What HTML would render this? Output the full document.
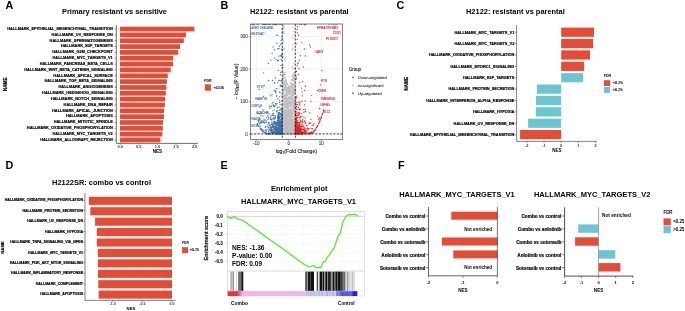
<!DOCTYPE html>
<html><head><meta charset="utf-8"><style>
html,body{margin:0;padding:0;background:#fff;}
svg{display:block;font-family:"Liberation Sans",sans-serif;will-change:transform;}
</style></head><body>
<svg width="685" height="311" viewBox="0 0 685 311">
<rect width="685" height="311" fill="#fff"/>
<text x="5.40" y="8.70" font-size="10.8" font-weight="bold" fill="#000">A</text>
<text x="220.60" y="8.70" font-size="10.8" font-weight="bold" fill="#000">B</text>
<text x="396.60" y="8.90" font-size="10.8" font-weight="bold" fill="#000">C</text>
<text x="5.40" y="168.50" font-size="10.8" font-weight="bold" fill="#000">D</text>
<text x="220.50" y="168.90" font-size="10.8" font-weight="bold" fill="#000">E</text>
<text x="397.90" y="169.00" font-size="10.8" font-weight="bold" fill="#000">F</text>
<text x="62.00" y="13.80" font-size="7.44" font-weight="bold" fill="#000" textLength="105" lengthAdjust="spacingAndGlyphs">Primary resistant vs sensitive</text>
<rect x="120.00" y="26.70" width="74.40" height="4.70" fill="#e64b35"/>
<text x="112.80" y="29.89" font-size="3.9" font-weight="bold" text-anchor="end" fill="#000" stroke="#000" stroke-width="0.17">HALLMARK_EPITHELIAL_MESENCHYMAL_TRANSITION</text>
<line x1="114.60" y1="29.05" x2="116.30" y2="29.05" stroke="#333" stroke-width="0.5"/>
<rect x="120.00" y="32.54" width="66.00" height="4.70" fill="#e64b35"/>
<text x="112.80" y="35.73" font-size="3.9" font-weight="bold" text-anchor="end" fill="#000" stroke="#000" stroke-width="0.17">HALLMARK_UV_RESPONSE_DN</text>
<line x1="114.60" y1="34.89" x2="116.30" y2="34.89" stroke="#333" stroke-width="0.5"/>
<rect x="120.00" y="38.38" width="63.80" height="4.70" fill="#e64b35"/>
<text x="112.80" y="41.57" font-size="3.9" font-weight="bold" text-anchor="end" fill="#000" stroke="#000" stroke-width="0.17">HALLMARK_SPERMATOGENESIS</text>
<line x1="114.60" y1="40.73" x2="116.30" y2="40.73" stroke="#333" stroke-width="0.5"/>
<rect x="120.00" y="44.22" width="60.00" height="4.70" fill="#e64b35"/>
<text x="112.80" y="47.41" font-size="3.9" font-weight="bold" text-anchor="end" fill="#000" stroke="#000" stroke-width="0.17">HALLMARK_E2F_TARGETS</text>
<line x1="114.60" y1="46.57" x2="116.30" y2="46.57" stroke="#333" stroke-width="0.5"/>
<rect x="120.00" y="50.06" width="58.20" height="4.70" fill="#e64b35"/>
<text x="112.80" y="53.25" font-size="3.9" font-weight="bold" text-anchor="end" fill="#000" stroke="#000" stroke-width="0.17">HALLMARK_G2M_CHECKPOINT</text>
<line x1="114.60" y1="52.41" x2="116.30" y2="52.41" stroke="#333" stroke-width="0.5"/>
<rect x="120.00" y="55.90" width="53.20" height="4.70" fill="#e64b35"/>
<text x="112.80" y="59.09" font-size="3.9" font-weight="bold" text-anchor="end" fill="#000" stroke="#000" stroke-width="0.17">HALLMARK_MYC_TARGETS_V1</text>
<line x1="114.60" y1="58.25" x2="116.30" y2="58.25" stroke="#333" stroke-width="0.5"/>
<rect x="120.00" y="61.74" width="53.00" height="4.70" fill="#e64b35"/>
<text x="112.80" y="64.93" font-size="3.9" font-weight="bold" text-anchor="end" fill="#000" stroke="#000" stroke-width="0.17">HALLMARK_PANCREAS_BETA_CELLS</text>
<line x1="114.60" y1="64.09" x2="116.30" y2="64.09" stroke="#333" stroke-width="0.5"/>
<rect x="120.00" y="67.58" width="50.70" height="4.70" fill="#e64b35"/>
<text x="112.80" y="70.77" font-size="3.9" font-weight="bold" text-anchor="end" fill="#000" stroke="#000" stroke-width="0.17">HALLMARK_WNT_BETA_CATENIN_SIGNALING</text>
<line x1="114.60" y1="69.93" x2="116.30" y2="69.93" stroke="#333" stroke-width="0.5"/>
<rect x="120.00" y="73.42" width="47.80" height="4.70" fill="#e64b35"/>
<text x="112.80" y="76.61" font-size="3.9" font-weight="bold" text-anchor="end" fill="#000" stroke="#000" stroke-width="0.17">HALLMARK_APICAL_SURFACE</text>
<line x1="114.60" y1="75.77" x2="116.30" y2="75.77" stroke="#333" stroke-width="0.5"/>
<rect x="120.00" y="79.26" width="46.90" height="4.70" fill="#e64b35"/>
<text x="112.80" y="82.45" font-size="3.9" font-weight="bold" text-anchor="end" fill="#000" stroke="#000" stroke-width="0.17">HALLMARK_TGF_BETA_SIGNALING</text>
<line x1="114.60" y1="81.61" x2="116.30" y2="81.61" stroke="#333" stroke-width="0.5"/>
<rect x="120.00" y="85.10" width="46.40" height="4.70" fill="#e64b35"/>
<text x="112.80" y="88.29" font-size="3.9" font-weight="bold" text-anchor="end" fill="#000" stroke="#000" stroke-width="0.17">HALLMARK_ANGIOGENESIS</text>
<line x1="114.60" y1="87.45" x2="116.30" y2="87.45" stroke="#333" stroke-width="0.5"/>
<rect x="120.00" y="90.94" width="45.80" height="4.70" fill="#e64b35"/>
<text x="112.80" y="94.13" font-size="3.9" font-weight="bold" text-anchor="end" fill="#000" stroke="#000" stroke-width="0.17">HALLMARK_HEDGEHOG_SIGNALING</text>
<line x1="114.60" y1="93.29" x2="116.30" y2="93.29" stroke="#333" stroke-width="0.5"/>
<rect x="120.00" y="96.78" width="45.10" height="4.70" fill="#e64b35"/>
<text x="112.80" y="99.97" font-size="3.9" font-weight="bold" text-anchor="end" fill="#000" stroke="#000" stroke-width="0.17">HALLMARK_NOTCH_SIGNALING</text>
<line x1="114.60" y1="99.13" x2="116.30" y2="99.13" stroke="#333" stroke-width="0.5"/>
<rect x="120.00" y="102.62" width="44.90" height="4.70" fill="#e64b35"/>
<text x="112.80" y="105.81" font-size="3.9" font-weight="bold" text-anchor="end" fill="#000" stroke="#000" stroke-width="0.17">HALLMARK_DNA_REPAIR</text>
<line x1="114.60" y1="104.97" x2="116.30" y2="104.97" stroke="#333" stroke-width="0.5"/>
<rect x="120.00" y="108.46" width="44.00" height="4.70" fill="#e64b35"/>
<text x="112.80" y="111.65" font-size="3.9" font-weight="bold" text-anchor="end" fill="#000" stroke="#000" stroke-width="0.17">HALLMARK_APICAL_JUNCTION</text>
<line x1="114.60" y1="110.81" x2="116.30" y2="110.81" stroke="#333" stroke-width="0.5"/>
<rect x="120.00" y="114.30" width="44.00" height="4.70" fill="#e64b35"/>
<text x="112.80" y="117.49" font-size="3.9" font-weight="bold" text-anchor="end" fill="#000" stroke="#000" stroke-width="0.17">HALLMARK_APOPTOSIS</text>
<line x1="114.60" y1="116.65" x2="116.30" y2="116.65" stroke="#333" stroke-width="0.5"/>
<rect x="120.00" y="120.14" width="43.00" height="4.70" fill="#e64b35"/>
<text x="112.80" y="123.33" font-size="3.9" font-weight="bold" text-anchor="end" fill="#000" stroke="#000" stroke-width="0.17">HALLMARK_MITOTIC_SPINDLE</text>
<line x1="114.60" y1="122.49" x2="116.30" y2="122.49" stroke="#333" stroke-width="0.5"/>
<rect x="120.00" y="125.98" width="42.80" height="4.70" fill="#e64b35"/>
<text x="112.80" y="129.17" font-size="3.9" font-weight="bold" text-anchor="end" fill="#000" stroke="#000" stroke-width="0.17">HALLMARK_OXIDATIVE_PHOSPHORYLATION</text>
<line x1="114.60" y1="128.33" x2="116.30" y2="128.33" stroke="#333" stroke-width="0.5"/>
<rect x="120.00" y="131.82" width="42.40" height="4.70" fill="#e64b35"/>
<text x="112.80" y="135.01" font-size="3.9" font-weight="bold" text-anchor="end" fill="#000" stroke="#000" stroke-width="0.17">HALLMARK_MYC_TARGETS_V2</text>
<line x1="114.60" y1="134.17" x2="116.30" y2="134.17" stroke="#333" stroke-width="0.5"/>
<rect x="120.00" y="137.66" width="40.40" height="4.70" fill="#e64b35"/>
<text x="112.80" y="140.85" font-size="3.9" font-weight="bold" text-anchor="end" fill="#000" stroke="#000" stroke-width="0.17">HALLMARK_ALLOGRAFT_REJECTION</text>
<line x1="114.60" y1="140.01" x2="116.30" y2="140.01" stroke="#333" stroke-width="0.5"/>
<line x1="116.30" y1="25.00" x2="116.30" y2="143.40" stroke="#333" stroke-width="0.7"/>
<line x1="116.30" y1="143.40" x2="198.00" y2="143.40" stroke="#333" stroke-width="0.7"/>
<line x1="120.20" y1="143.50" x2="120.20" y2="145.00" stroke="#333" stroke-width="0.5"/>
<text x="120.20" y="148.04" font-size="3.9" font-weight="bold" text-anchor="middle" fill="#333">0.0</text>
<line x1="138.80" y1="143.50" x2="138.80" y2="145.00" stroke="#333" stroke-width="0.5"/>
<text x="138.80" y="148.04" font-size="3.9" font-weight="bold" text-anchor="middle" fill="#333">0.5</text>
<line x1="157.40" y1="143.50" x2="157.40" y2="145.00" stroke="#333" stroke-width="0.5"/>
<text x="157.40" y="148.04" font-size="3.9" font-weight="bold" text-anchor="middle" fill="#333">1.0</text>
<line x1="176.00" y1="143.50" x2="176.00" y2="145.00" stroke="#333" stroke-width="0.5"/>
<text x="176.00" y="148.04" font-size="3.9" font-weight="bold" text-anchor="middle" fill="#333">1.5</text>
<line x1="194.60" y1="143.50" x2="194.60" y2="145.00" stroke="#333" stroke-width="0.5"/>
<text x="194.60" y="148.04" font-size="3.9" font-weight="bold" text-anchor="middle" fill="#333">2.0</text>
<text x="157.45" y="153.28" font-size="4.6" font-weight="bold" text-anchor="middle" fill="#000" textLength="9.5" lengthAdjust="spacingAndGlyphs">NES</text>
<text transform="translate(6.68,84.30) rotate(-90)" x="0" y="0" font-size="4.6" font-weight="bold" text-anchor="middle" fill="#000" stroke="#000" stroke-width="0.17">NAME</text>
<text x="204.20" y="81.64" font-size="3.6" font-weight="bold" fill="#000">FDR</text>
<rect x="204.90" y="84.30" width="6.00" height="6.40" fill="#e64b35"/>
<text x="213.80" y="88.91" font-size="3.8" fill="#000" textLength="10.1" lengthAdjust="spacingAndGlyphs" stroke="#000" stroke-width="0.14">&lt;0.05</text>
<text x="250.00" y="14.10" font-size="7.42" font-weight="bold" fill="#000" textLength="98.6" lengthAdjust="spacingAndGlyphs">H2122: resistant vs parental</text>
<clipPath id="cb"><rect x="250.4" y="24.0" width="92.29999999999998" height="115.30000000000001"/></clipPath>
<line x1="272.57" y1="24.00" x2="272.57" y2="139.30" stroke="#f2f2f2" stroke-width="0.35"/>
<line x1="305.03" y1="24.00" x2="305.03" y2="139.30" stroke="#f2f2f2" stroke-width="0.35"/>
<line x1="337.48" y1="24.00" x2="337.48" y2="139.30" stroke="#f2f2f2" stroke-width="0.35"/>
<line x1="250.40" y1="117.99" x2="342.70" y2="117.99" stroke="#f2f2f2" stroke-width="0.35"/>
<line x1="250.40" y1="85.36" x2="342.70" y2="85.36" stroke="#f2f2f2" stroke-width="0.35"/>
<line x1="250.40" y1="52.73" x2="342.70" y2="52.73" stroke="#f2f2f2" stroke-width="0.35"/>
<line x1="256.35" y1="24.00" x2="256.35" y2="139.30" stroke="#e6e6e6" stroke-width="0.5"/>
<line x1="288.80" y1="24.00" x2="288.80" y2="139.30" stroke="#e6e6e6" stroke-width="0.5"/>
<line x1="321.25" y1="24.00" x2="321.25" y2="139.30" stroke="#e6e6e6" stroke-width="0.5"/>
<line x1="250.40" y1="134.30" x2="342.70" y2="134.30" stroke="#e6e6e6" stroke-width="0.5"/>
<line x1="250.40" y1="101.67" x2="342.70" y2="101.67" stroke="#e6e6e6" stroke-width="0.5"/>
<line x1="250.40" y1="69.04" x2="342.70" y2="69.04" stroke="#e6e6e6" stroke-width="0.5"/>
<line x1="250.40" y1="36.41" x2="342.70" y2="36.41" stroke="#e6e6e6" stroke-width="0.5"/>
<g clip-path="url(#cb)">
<path d="M288.2 115.0h0M294.3 115.9h0M288.9 114.1h0M284.7 114.3h0M290.5 98.6h0M283.6 125.1h0M283.5 90.2h0M291.3 134.0h0M295.0 73.4h0M290.8 110.1h0M284.4 134.2h0M289.2 133.8h0M284.8 128.3h0M282.7 115.5h0M288.0 96.9h0M289.0 110.9h0M288.8 110.0h0M288.2 128.0h0M295.2 69.7h0M293.2 100.2h0M286.4 129.2h0M286.1 133.5h0M292.2 121.2h0M293.3 121.3h0M294.7 85.5h0M282.3 128.9h0M294.1 115.8h0M295.0 119.6h0M283.3 104.5h0M292.4 127.3h0M283.5 123.6h0M294.8 93.3h0M283.9 127.8h0M283.6 133.6h0M292.6 130.7h0M289.6 120.7h0M284.8 99.0h0M284.0 104.4h0M283.8 119.0h0M285.1 127.2h0M294.9 89.1h0M286.3 89.8h0M285.1 121.3h0M293.4 104.8h0M283.6 73.8h0M285.1 127.7h0M292.3 124.7h0M286.2 133.5h0M283.5 108.2h0M285.5 109.3h0M287.1 119.7h0M294.7 114.4h0M289.8 94.8h0M284.7 131.4h0M294.1 89.5h0M285.6 130.4h0M291.9 83.8h0M284.9 80.8h0M293.7 107.2h0M287.8 133.0h0M282.8 74.3h0M285.4 102.0h0M285.7 93.4h0M290.0 127.2h0M284.6 99.5h0M283.2 128.4h0M289.6 96.2h0M290.3 127.6h0M294.2 129.4h0M282.6 126.4h0M288.1 133.8h0M284.6 122.4h0M289.7 132.4h0M287.0 91.1h0M295.0 101.4h0M291.3 111.5h0M284.2 134.0h0M282.6 78.8h0M291.4 83.2h0M282.6 103.1h0M288.6 105.5h0M286.5 80.8h0M283.3 110.6h0M291.9 87.3h0M291.9 102.6h0M292.6 84.3h0M286.9 105.7h0M294.0 84.9h0M287.7 100.0h0M293.5 109.6h0M290.4 123.2h0M289.9 111.7h0M283.4 103.9h0M295.2 81.4h0M291.7 122.1h0M291.8 111.0h0M288.0 97.2h0M283.4 95.1h0M282.7 105.9h0M288.6 129.8h0M291.4 116.6h0M290.3 89.5h0M285.6 134.3h0M286.2 105.2h0M285.0 130.9h0M294.0 102.5h0M288.1 93.4h0M286.6 106.5h0M284.9 119.2h0M292.8 84.0h0M293.7 121.1h0M289.9 126.4h0M284.1 114.7h0M293.2 88.7h0M291.5 83.9h0M285.9 131.1h0M288.2 128.1h0M285.1 120.3h0M290.4 117.6h0M286.4 93.7h0M295.0 116.2h0M283.3 134.1h0M293.6 133.9h0M291.5 112.1h0M286.3 97.2h0M282.6 131.7h0M288.2 134.2h0M293.1 128.4h0M284.2 133.9h0M290.5 120.1h0M290.5 108.0h0M292.8 80.0h0M291.2 130.2h0M288.5 131.3h0M282.5 114.8h0M291.6 130.8h0M285.9 124.2h0M291.3 115.3h0M290.3 101.6h0M287.4 99.3h0M294.0 133.1h0M294.4 97.0h0M284.0 117.2h0M290.4 90.0h0M287.2 113.4h0M293.7 92.0h0M294.5 115.8h0M290.8 130.1h0M291.7 94.4h0M290.6 103.6h0M285.1 85.8h0M295.0 72.2h0M289.3 101.1h0M286.5 88.3h0M293.4 123.2h0M283.4 117.5h0M289.4 102.3h0M288.6 134.1h0M292.8 133.6h0M292.7 130.8h0M286.7 98.1h0M284.2 131.5h0M289.0 105.9h0M293.2 101.6h0M294.6 113.9h0M294.6 133.0h0M285.2 113.8h0M286.1 101.4h0M290.6 115.9h0M293.2 110.8h0M286.4 122.8h0M293.3 83.9h0M285.0 89.8h0M294.8 111.5h0M289.7 130.5h0M289.3 118.2h0M290.2 134.1h0M294.9 112.1h0M287.5 98.8h0M289.6 118.5h0M291.3 133.6h0M289.3 122.5h0M294.7 78.3h0M285.8 117.6h0M284.0 118.4h0M292.9 84.9h0M288.5 126.7h0M284.8 107.4h0M294.3 131.9h0M292.4 134.2h0M284.8 128.9h0M291.2 125.5h0M286.9 110.0h0M283.7 97.1h0M283.9 113.6h0M285.6 130.1h0M289.2 121.5h0M287.2 121.8h0M289.2 131.7h0M285.0 106.6h0M290.6 115.5h0M293.3 107.1h0M293.4 128.5h0M291.9 94.5h0M294.0 124.5h0M286.4 87.1h0M285.2 77.2h0M293.8 131.9h0M285.4 100.4h0M285.7 133.0h0M293.1 119.5h0M292.5 132.2h0M287.5 106.7h0M282.6 129.4h0M291.2 88.1h0M294.8 132.3h0M288.9 104.0h0M288.8 108.6h0M284.8 133.5h0M283.7 134.0h0M289.5 117.4h0M289.7 132.0h0M284.7 129.7h0M293.2 75.9h0M294.3 132.8h0M283.1 76.2h0M288.3 102.8h0M286.6 118.5h0M289.0 122.0h0M290.1 134.2h0M291.4 92.9h0M284.7 117.7h0M291.9 121.2h0M284.9 131.0h0M289.0 134.2h0M293.9 91.3h0M291.4 91.5h0M290.5 122.2h0M290.1 117.4h0M295.0 88.7h0M285.7 86.2h0M292.0 96.9h0M292.9 120.5h0M293.9 84.3h0M291.3 98.9h0M292.2 120.9h0M291.7 133.5h0M286.8 118.6h0M282.5 121.9h0M290.6 109.8h0M285.3 82.5h0M290.9 125.0h0M290.9 112.8h0M289.2 123.6h0M295.3 102.2h0M291.4 99.2h0M295.0 134.1h0M290.3 102.8h0M285.7 121.3h0M283.0 129.7h0M287.2 133.0h0M285.6 86.5h0M289.4 117.8h0M294.8 108.4h0M295.2 102.6h0M292.8 133.4h0M290.1 101.8h0M282.9 77.7h0M284.4 116.5h0M284.5 115.1h0M290.2 133.8h0M294.6 118.5h0M289.1 113.2h0M287.1 127.3h0M290.8 113.4h0M286.0 102.1h0M286.2 134.2h0M285.5 133.9h0M284.4 96.4h0M287.4 91.4h0M292.0 133.8h0M295.1 75.2h0M283.3 81.0h0M287.9 119.1h0M294.9 127.6h0M289.1 91.2h0M291.7 117.9h0M295.0 87.7h0M290.1 132.7h0M290.4 119.7h0M285.0 133.8h0M289.2 132.6h0M288.1 108.6h0M288.2 128.6h0M289.9 121.8h0M292.4 113.6h0M295.2 74.1h0M291.8 128.7h0M283.8 83.4h0M292.5 107.3h0M287.0 127.8h0M291.2 112.8h0M290.0 110.1h0M292.1 130.4h0M285.6 80.0h0M294.2 83.8h0M282.9 133.6h0M285.8 120.2h0M290.4 133.0h0M289.3 133.6h0M283.5 101.1h0M289.5 110.9h0M287.2 118.4h0M285.1 123.9h0M292.0 92.1h0M283.3 132.2h0M292.8 106.9h0M292.3 129.5h0M287.8 128.6h0M292.8 122.5h0M290.8 82.6h0M286.5 113.9h0M292.0 85.3h0M287.9 124.2h0M283.6 84.5h0M283.4 133.1h0M289.6 118.8h0M291.2 126.5h0M292.4 133.4h0M285.1 104.6h0M283.4 125.1h0M291.7 103.5h0M286.0 131.9h0M287.0 103.1h0M287.1 132.6h0M291.5 112.1h0M294.2 78.0h0M294.1 117.7h0M292.7 125.6h0M286.4 121.9h0M294.4 81.7h0M285.5 123.3h0M287.1 124.0h0M287.5 123.2h0M284.9 111.1h0M292.6 112.7h0M293.1 110.7h0M284.6 96.5h0M293.7 126.3h0M282.6 112.0h0M289.4 114.7h0M294.8 102.1h0M292.7 133.6h0M289.4 101.0h0M283.4 133.2h0M291.9 87.4h0M283.4 104.3h0M284.2 96.8h0M290.7 128.8h0M285.2 97.0h0M289.1 103.2h0M287.4 125.3h0M294.8 100.4h0M288.7 116.8h0M291.7 102.6h0M294.2 119.4h0M293.0 103.5h0M293.4 91.9h0M293.1 85.4h0M294.7 103.1h0M289.1 106.6h0M292.7 119.7h0M287.8 132.0h0M291.9 79.3h0M287.2 131.3h0M285.0 119.6h0M286.1 82.4h0M283.1 124.7h0M283.8 103.8h0M292.4 130.7h0M283.1 116.2h0M289.9 91.3h0M282.8 132.5h0M284.7 129.2h0M285.4 101.0h0M290.0 129.7h0M284.7 126.6h0M284.6 96.5h0M286.4 113.7h0M292.9 116.2h0M285.7 88.3h0M294.2 123.1h0M289.4 88.9h0M288.6 130.0h0M283.0 76.2h0M292.7 121.7h0M289.2 117.7h0M285.9 80.0h0M290.8 129.0h0M282.5 114.8h0M287.1 98.4h0M291.6 109.7h0M284.4 131.2h0M286.5 128.1h0M293.6 113.3h0M290.6 82.9h0M285.8 113.9h0M284.3 95.0h0M282.4 86.8h0M293.3 90.8h0M283.4 126.7h0M291.6 133.0h0M288.5 120.1h0M294.7 107.2h0M293.4 125.4h0M292.5 120.1h0M294.2 133.0h0M293.0 129.5h0M289.4 116.9h0M284.4 90.0h0M286.4 126.0h0M283.3 124.9h0M288.4 106.1h0M287.0 105.7h0M283.7 120.5h0M288.3 88.5h0M293.1 104.4h0M282.5 120.7h0M291.5 128.8h0M289.6 120.2h0M282.5 70.4h0M292.7 129.7h0M290.3 127.2h0M287.2 115.1h0M286.2 124.7h0M287.4 107.7h0M285.7 130.0h0M291.8 124.9h0M294.5 109.1h0M291.7 124.9h0M293.0 133.0h0M284.2 132.9h0M291.1 103.5h0M284.7 120.6h0M293.2 108.6h0M283.5 128.5h0M284.4 132.2h0M287.6 133.5h0M294.2 118.3h0M288.9 110.7h0M292.2 92.9h0M287.3 125.6h0M287.7 134.2h0M287.5 105.7h0M295.0 90.1h0M290.9 110.4h0M282.6 123.3h0M286.8 107.8h0M283.7 121.4h0M288.9 101.9h0M293.0 107.5h0M284.4 95.5h0M294.0 110.7h0M286.9 117.0h0M284.2 99.3h0M295.1 111.9h0M291.6 93.2h0M284.9 81.3h0M290.4 130.4h0M283.4 127.8h0M289.8 106.4h0M286.6 87.0h0M287.0 119.1h0M283.9 76.2h0M284.1 83.0h0M289.4 115.1h0M289.6 128.4h0M294.1 73.2h0M292.9 108.3h0M283.9 89.7h0M286.1 88.4h0M285.5 111.1h0M293.1 130.3h0M289.4 133.5h0M282.8 130.2h0M295.1 75.8h0M290.8 126.3h0M291.0 101.6h0M287.3 112.1h0M292.7 134.2h0M284.9 117.1h0M284.2 121.2h0M289.7 131.3h0M289.1 128.6h0M289.7 125.8h0M290.6 134.0h0M291.0 131.9h0M294.7 106.2h0M288.4 122.7h0M290.4 105.9h0M292.1 98.6h0M288.6 87.2h0M293.2 88.2h0M287.6 121.1h0M289.7 92.2h0M289.1 117.2h0M287.9 92.2h0M286.5 133.8h0M291.7 87.7h0M291.8 110.0h0M292.1 125.9h0M290.0 133.6h0M283.9 117.6h0M288.8 123.6h0M283.0 99.0h0M289.1 129.4h0M286.3 122.1h0M285.4 133.5h0M294.1 75.6h0M290.9 92.1h0M287.8 99.1h0M285.2 98.5h0M289.7 92.3h0M283.6 91.9h0M283.9 111.8h0M294.6 134.3h0M285.5 126.1h0M286.5 133.7h0M293.9 90.0h0M287.5 124.6h0M289.9 133.9h0M282.7 80.3h0M286.3 116.6h0M294.4 73.8h0M288.4 130.5h0M286.2 86.4h0M293.9 129.8h0M293.2 123.0h0M288.4 131.4h0M293.7 74.0h0M285.0 106.5h0M284.8 86.8h0M283.0 132.6h0M291.7 125.7h0M294.0 85.1h0M291.6 132.1h0M291.3 85.5h0M288.1 133.5h0M285.2 125.7h0M291.5 130.3h0M284.7 128.5h0M290.9 97.9h0M287.2 107.6h0M293.8 108.1h0M285.3 126.0h0M294.3 101.6h0M285.9 107.3h0M283.5 74.1h0M288.0 116.6h0M289.2 134.0h0M290.1 127.5h0M285.6 94.8h0M283.5 126.0h0M292.1 128.3h0M285.9 113.3h0M284.7 85.2h0M295.1 134.0h0M288.3 103.7h0M287.3 88.8h0M288.8 131.3h0M289.5 110.0h0M287.0 107.6h0M292.5 114.4h0M288.9 98.2h0M291.2 115.4h0M294.6 130.4h0M292.4 131.1h0M290.2 129.3h0M288.0 101.7h0M292.5 94.8h0M285.4 116.3h0M285.2 110.4h0M288.8 134.1h0M290.1 104.8h0M289.7 94.4h0M284.7 131.4h0M282.6 113.3h0M288.0 120.9h0M285.7 95.5h0M283.3 80.8h0M289.7 115.7h0M292.6 128.5h0M284.2 125.1h0M282.9 124.3h0M290.4 115.9h0M285.8 110.5h0M283.5 89.2h0M284.6 127.7h0M284.4 101.5h0M293.1 94.1h0M283.1 119.1h0M287.0 129.8h0M294.9 133.9h0M288.7 103.7h0M295.1 131.4h0M288.2 104.0h0M282.8 127.8h0M293.8 131.6h0M287.4 127.0h0M287.8 133.5h0M282.8 70.8h0M292.2 99.8h0M285.3 128.0h0M289.5 129.3h0M288.3 91.0h0M287.0 125.2h0M295.0 105.0h0M282.9 119.4h0M290.7 133.7h0M286.8 104.9h0M293.5 108.4h0M293.8 116.5h0M287.4 95.6h0M287.3 99.7h0M285.1 123.7h0M284.7 111.9h0M284.5 129.7h0M285.1 117.3h0M286.3 119.4h0M295.2 99.3h0M293.5 129.5h0M287.3 133.5h0M291.3 123.6h0M285.9 134.2h0M284.7 127.4h0M287.4 89.5h0M291.6 127.6h0M287.0 131.7h0M294.4 122.1h0M292.2 100.6h0M294.1 134.2h0M286.5 122.7h0M283.4 83.4h0M286.5 99.1h0M289.0 133.8h0M287.4 129.2h0M282.9 131.2h0M290.0 134.1h0M286.4 120.7h0M289.4 132.3h0M291.5 128.0h0M291.7 105.5h0M284.2 129.6h0M286.0 102.3h0M287.6 123.3h0M293.5 128.7h0M286.1 124.4h0M285.1 134.0h0M282.7 103.6h0M289.7 99.1h0M294.9 125.0h0M291.0 87.8h0M285.1 102.7h0M291.0 85.0h0M293.6 128.4h0M290.5 133.2h0M287.9 123.2h0M283.1 120.7h0M286.6 116.9h0M286.0 131.4h0M287.5 118.9h0M284.5 103.5h0M285.4 133.0h0M286.8 121.0h0M284.3 109.2h0M291.4 113.2h0M291.4 134.2h0M287.4 124.2h0M283.2 119.5h0M283.0 113.8h0M289.9 119.4h0M286.5 128.4h0M282.6 122.5h0M293.9 109.7h0M285.7 105.1h0M284.7 116.9h0M290.3 86.8h0M287.0 112.8h0M294.5 92.7h0M290.4 110.2h0M287.6 122.0h0M285.9 93.4h0M293.7 121.3h0M294.1 134.0h0M284.1 114.0h0M286.3 123.8h0M295.0 131.2h0M284.8 128.8h0M291.1 129.0h0M282.4 109.7h0M287.4 129.1h0M288.7 110.6h0M289.4 111.4h0M289.6 97.7h0M294.9 123.2h0M286.8 91.0h0M286.4 102.8h0M291.3 104.7h0M294.8 87.4h0M284.4 106.6h0M288.7 115.4h0M287.1 127.3h0M292.0 113.8h0M285.4 128.2h0M286.5 130.9h0M289.0 132.6h0M283.2 133.4h0M283.7 99.2h0M283.8 117.2h0M292.3 116.7h0M284.4 87.2h0M293.6 133.7h0M285.6 115.4h0M292.6 121.4h0M291.6 128.3h0M291.6 125.1h0M286.7 100.2h0M293.2 90.3h0M289.7 121.9h0M291.5 108.7h0M293.1 92.9h0M284.0 121.6h0M291.0 129.2h0M284.7 134.2h0M289.9 88.8h0M294.9 131.7h0M291.2 120.9h0M290.5 122.5h0M294.4 72.7h0M283.0 97.4h0M283.9 133.9h0M286.0 101.1h0M295.2 132.1h0M286.6 134.1h0M289.3 119.1h0M287.2 126.4h0M292.7 90.6h0M286.0 122.1h0M290.3 100.9h0M295.0 120.0h0M291.3 113.8h0M292.7 131.6h0M284.6 132.7h0M294.4 127.4h0M288.6 132.7h0M286.5 134.2h0M289.7 132.1h0M290.4 127.8h0M285.3 116.6h0M287.1 128.3h0M283.0 133.5h0M293.9 124.9h0M283.4 130.2h0M288.6 86.9h0M285.0 88.3h0M288.6 122.7h0M292.8 121.1h0M283.1 110.0h0M290.8 109.6h0M285.9 84.5h0M293.5 74.6h0M288.1 97.6h0M291.7 130.9h0M282.7 130.6h0M283.9 133.3h0M287.0 101.2h0M286.3 115.7h0M282.5 129.0h0M294.7 134.3h0M289.2 100.0h0M292.6 99.1h0M287.5 98.6h0M293.0 95.7h0M295.1 132.7h0M294.6 119.5h0M291.5 128.4h0M294.1 134.1h0M289.8 129.7h0M287.4 123.9h0M290.8 96.6h0M287.1 109.0h0M286.9 127.5h0M294.0 124.2h0M283.6 123.6h0M291.9 129.7h0M291.9 113.1h0M291.1 130.9h0M283.7 131.6h0M286.9 120.7h0M282.5 112.7h0M287.6 126.1h0M289.3 89.6h0M285.0 87.2h0M286.5 100.2h0M283.7 74.3h0M287.9 87.7h0M285.2 120.7h0M291.5 130.9h0M285.9 104.7h0M294.6 124.0h0M284.7 123.0h0M295.1 131.2h0M290.5 123.4h0M290.7 129.9h0M290.3 92.0h0M293.4 105.8h0M288.9 115.2h0M283.8 88.4h0M291.3 119.1h0M290.9 121.1h0M287.3 129.4h0M290.1 113.5h0M289.0 134.1h0M290.4 120.1h0M290.0 112.4h0M294.4 131.2h0M288.4 86.7h0M291.9 125.6h0M291.9 79.6h0M287.5 94.0h0M284.0 74.7h0M288.7 129.7h0M293.2 104.6h0M294.5 87.7h0M292.6 114.5h0M295.2 133.5h0M293.6 99.2h0M285.6 94.5h0M288.2 116.3h0M293.5 129.9h0M286.0 107.1h0M283.3 109.9h0M292.5 115.9h0M285.5 94.9h0M293.4 94.8h0M289.4 92.7h0M292.6 131.5h0M287.1 133.0h0M282.8 122.6h0M293.5 89.2h0M283.9 130.3h0M287.4 95.0h0M290.3 90.9h0M283.3 73.0h0M285.0 106.8h0M293.7 97.8h0M284.9 103.9h0M287.9 134.2h0M286.7 126.0h0M290.5 127.6h0M290.1 106.0h0M284.7 132.1h0M291.3 118.3h0M284.0 132.4h0M294.5 105.7h0M287.0 130.4h0M295.2 98.3h0M291.9 123.4h0M286.3 121.4h0M284.2 105.6h0M287.8 98.1h0M287.6 119.9h0M288.9 91.4h0M286.8 104.3h0M285.4 110.7h0M286.0 90.2h0M286.0 91.7h0M291.1 119.2h0M294.4 120.5h0M291.9 109.6h0M288.1 133.7h0M287.8 127.7h0M288.0 88.7h0M286.1 103.8h0M291.0 128.7h0M287.7 132.3h0M293.9 127.6h0M287.8 125.4h0M292.9 89.1h0M290.0 115.2h0M283.6 82.6h0M283.5 122.0h0M287.2 103.6h0M291.0 124.7h0M293.9 77.7h0M282.6 103.4h0M288.4 124.8h0M288.3 126.7h0M291.0 110.5h0M294.9 72.6h0M295.2 119.6h0M293.0 104.7h0M291.4 80.2h0M283.2 116.0h0M287.5 108.5h0M285.2 78.0h0M285.0 122.6h0M284.2 120.8h0M291.9 133.2h0M284.5 104.7h0M290.4 102.4h0M285.6 94.3h0M291.8 97.4h0M283.9 116.2h0M282.5 83.6h0M294.5 81.3h0M282.7 122.3h0M289.3 116.6h0M283.8 92.4h0M286.2 116.0h0M284.0 109.8h0M284.0 133.1h0M289.0 127.6h0M292.4 128.2h0M287.7 133.8h0M285.2 118.2h0M289.6 120.2h0M293.3 132.7h0M293.3 131.3h0M294.9 111.4h0M287.6 111.3h0M293.5 77.5h0M287.7 134.3h0M284.3 91.1h0M291.8 102.0h0M284.4 112.7h0M282.7 132.4h0M286.2 83.0h0M290.6 94.2h0M282.9 118.7h0M283.4 127.0h0M283.8 80.9h0M286.6 117.4h0M290.8 90.9h0M294.6 108.7h0M288.8 94.3h0M287.4 126.9h0M291.9 127.9h0M287.1 120.9h0M288.5 125.0h0M287.9 120.5h0M283.0 86.8h0M283.1 111.7h0M289.4 123.1h0M285.2 132.9h0M287.1 126.2h0M288.6 129.8h0M292.0 116.5h0M282.5 118.9h0M294.8 134.3h0M290.0 87.0h0M287.1 111.5h0M287.1 126.7h0M290.2 112.4h0M286.4 116.7h0M289.0 104.0h0M283.0 132.9h0M285.6 127.4h0M292.6 119.6h0M293.5 120.3h0M286.0 104.8h0M283.4 73.8h0M293.1 124.4h0M286.4 95.3h0M292.5 106.0h0M283.1 93.3h0M283.0 104.4h0M289.5 91.0h0M290.6 134.2h0M294.4 94.4h0M289.8 134.3h0M291.9 120.5h0M291.1 82.2h0M294.2 133.3h0M292.4 118.9h0M292.0 122.5h0M288.1 121.3h0M283.9 124.5h0M291.8 133.5h0M283.8 88.7h0M290.9 114.0h0M283.8 132.3h0M286.3 84.3h0M289.6 91.1h0M285.1 120.2h0M289.3 97.8h0M283.9 85.4h0M288.4 134.1h0M287.9 123.9h0M291.1 87.0h0M288.7 108.2h0M287.4 100.1h0M283.7 96.2h0M284.5 109.2h0M285.0 123.7h0M284.5 123.3h0M290.0 116.6h0M287.4 113.3h0M293.2 122.8h0M289.9 118.8h0M295.0 123.5h0M291.3 129.0h0M285.7 100.6h0M289.8 128.6h0M283.2 88.1h0M287.2 104.1h0M287.9 111.4h0M289.6 87.0h0M294.1 116.7h0M288.6 129.7h0M292.1 132.8h0M286.3 92.8h0M282.8 98.3h0M289.7 115.2h0M286.6 131.7h0M294.6 93.0h0M292.7 132.9h0M292.5 129.3h0M284.9 113.0h0M290.2 132.6h0M292.2 110.5h0M294.0 80.1h0M291.2 123.6h0M294.6 96.9h0M286.1 91.6h0M291.7 127.7h0M285.6 134.2h0M289.3 128.9h0M286.1 128.3h0M284.0 115.3h0M285.9 126.9h0M285.9 115.6h0M293.6 131.1h0M293.4 87.6h0M290.2 115.1h0M291.8 113.9h0M290.9 88.2h0M292.4 127.7h0M283.0 77.4h0M287.0 98.8h0M285.4 118.3h0M287.1 103.1h0M294.5 113.1h0M289.7 125.1h0M285.3 82.1h0M283.8 78.9h0M290.8 133.5h0M294.0 132.7h0M289.6 132.6h0M295.1 124.4h0M293.6 133.6h0M290.9 133.6h0M282.7 108.2h0M295.0 99.1h0M293.4 93.6h0M289.1 133.5h0M289.1 131.1h0M289.1 125.2h0M288.8 130.8h0M291.4 120.9h0M288.6 133.5h0M288.6 115.7h0M294.9 108.8h0M284.1 125.5h0M286.7 104.2h0M294.5 73.8h0M294.6 78.3h0M293.4 80.4h0M282.6 113.7h0M290.0 106.8h0M290.3 110.9h0M294.4 133.1h0M289.0 89.7h0M282.8 132.4h0M293.6 78.0h0M282.7 134.0h0M293.1 101.8h0M289.1 114.3h0M292.1 94.3h0M282.4 133.4h0M292.6 78.9h0M293.1 120.2h0M286.7 124.6h0M282.5 91.7h0M285.7 110.7h0M289.1 126.0h0M291.1 119.2h0M285.4 88.0h0M284.6 131.5h0M285.6 117.1h0M292.5 124.4h0M285.4 105.6h0M285.7 114.6h0M285.6 89.0h0M284.7 128.6h0M286.2 125.1h0M291.7 104.9h0M292.5 112.8h0M283.4 93.8h0M285.5 129.4h0M287.7 85.0h0M287.1 124.4h0M294.1 73.3h0M287.3 132.2h0M292.5 95.5h0M286.7 98.0h0M287.2 127.3h0M290.0 103.1h0M288.5 99.6h0M282.5 113.0h0M287.3 133.7h0M294.2 131.5h0M285.0 87.4h0M294.7 77.4h0M286.8 87.3h0M284.2 99.3h0M294.6 129.8h0M284.1 101.9h0M293.7 97.8h0M294.6 116.4h0M287.2 132.6h0M285.9 84.4h0M283.3 130.1h0M286.8 133.9h0M286.3 130.7h0M283.9 112.5h0M289.3 114.7h0M292.2 114.0h0M294.6 133.2h0M285.2 133.4h0M286.3 99.5h0M294.3 113.5h0M284.4 124.2h0M289.7 127.3h0M292.6 79.2h0M288.3 112.7h0M293.3 116.8h0M284.8 81.2h0M295.0 134.1h0M292.2 121.2h0M283.0 130.8h0M284.6 98.2h0M285.1 134.2h0M285.2 94.4h0M288.8 110.5h0M288.3 131.1h0M282.5 124.7h0M282.9 126.9h0M290.3 123.9h0M288.5 111.7h0M286.4 124.0h0M293.8 108.7h0M287.7 115.6h0M288.3 126.0h0M294.1 128.3h0M294.4 85.6h0M293.7 131.0h0M288.9 88.2h0M286.1 131.1h0M291.7 128.9h0M289.9 131.7h0M294.6 125.9h0M283.6 100.5h0M286.8 113.6h0M288.8 92.9h0M289.0 124.2h0M282.4 113.1h0M285.8 111.5h0M290.5 119.2h0M283.5 114.0h0M288.6 110.9h0M294.9 125.9h0M288.1 133.4h0M292.7 128.6h0M293.0 93.2h0M285.6 86.8h0M288.9 122.3h0M289.5 89.5h0M288.7 119.6h0M286.1 92.9h0M288.8 125.8h0M284.9 129.3h0M293.1 92.6h0M295.0 78.2h0M291.2 96.9h0M291.5 95.3h0M292.7 130.7h0M292.9 125.6h0M285.5 85.1h0M282.6 112.3h0M286.8 98.0h0M290.2 90.4h0M294.4 103.3h0M283.2 101.4h0M283.8 74.8h0M293.6 125.0h0M284.7 101.7h0M292.1 79.3h0M290.4 132.4h0M291.7 133.7h0M293.5 94.7h0M292.5 88.1h0M289.7 89.2h0M290.6 117.6h0M287.3 124.6h0M282.6 130.8h0M292.6 128.9h0M290.8 99.3h0M291.3 115.6h0M286.4 127.6h0M284.8 105.2h0M291.2 85.4h0M286.6 87.2h0M294.1 125.7h0M294.6 104.8h0M294.8 91.9h0M286.6 127.4h0M289.1 119.1h0M282.8 83.9h0M289.3 119.7h0M292.0 128.2h0M284.9 110.0h0M285.5 124.8h0M283.2 133.7h0M286.9 115.6h0M294.6 103.3h0M287.7 122.4h0M285.4 117.2h0M294.7 132.1h0M287.9 107.3h0M292.2 112.3h0M290.6 87.2h0M294.0 127.5h0M289.3 86.0h0M289.2 131.0h0M292.2 133.7h0M284.3 111.3h0M285.9 101.7h0M291.7 125.4h0M292.2 106.0h0M291.5 118.8h0M287.9 132.9h0M288.5 89.8h0M293.8 133.7h0M283.3 126.6h0M291.3 119.9h0M284.0 118.9h0M289.7 103.4h0M287.5 109.0h0M291.1 109.6h0M282.9 97.6h0M284.0 133.7h0M288.5 134.2h0M283.3 120.4h0M288.4 133.0h0M294.7 85.2h0M288.6 114.0h0M286.4 82.0h0M283.9 125.2h0M285.2 88.9h0M288.9 122.9h0M287.5 92.5h0M285.7 95.9h0M291.5 119.2h0M287.1 120.5h0M288.2 126.6h0M290.4 121.9h0M286.3 98.5h0M288.2 119.6h0M293.7 117.1h0M287.2 90.9h0M295.0 90.6h0M287.5 107.6h0M291.9 126.3h0M291.7 83.5h0M290.8 106.6h0M288.0 109.3h0M285.3 96.8h0M289.3 87.4h0M286.8 103.7h0M282.6 118.4h0M292.2 127.8h0M290.3 129.7h0M287.5 84.1h0M284.9 84.2h0M283.1 107.7h0M292.9 90.1h0M287.4 112.4h0M291.5 98.9h0M292.0 111.0h0M285.6 102.3h0M289.6 115.7h0M295.1 131.6h0M292.4 124.8h0M291.7 83.4h0M285.9 112.0h0M289.2 118.7h0M284.5 106.4h0M293.9 102.5h0M286.1 95.6h0M287.8 132.0h0M290.2 119.6h0M289.2 86.9h0M289.7 88.4h0M286.9 100.6h0M283.3 125.2h0M291.3 104.5h0M293.0 121.8h0M285.9 123.6h0M289.3 134.2h0M287.2 108.0h0M284.3 125.1h0M293.6 80.1h0M285.6 130.8h0M283.9 133.1h0M292.6 98.7h0M285.8 116.6h0M291.3 134.1h0M292.9 88.3h0M285.1 101.6h0M291.4 124.8h0M293.7 129.0h0M288.5 126.8h0M288.0 99.1h0M289.7 111.9h0M295.1 128.4h0M285.2 107.8h0M284.3 78.0h0M286.7 120.1h0M287.9 97.7h0M294.2 101.0h0M284.6 123.1h0M291.5 129.6h0M293.7 85.4h0M285.3 123.0h0M285.3 100.8h0M283.0 98.8h0M283.2 86.6h0M289.4 113.8h0M283.6 133.9h0M286.9 83.2h0M290.1 94.4h0M283.2 132.7h0M282.6 98.2h0M284.6 127.0h0M291.0 104.6h0M286.5 118.5h0M286.1 112.6h0M286.9 124.1h0M285.6 126.5h0M285.7 134.2h0M286.4 111.0h0M285.8 132.6h0M293.3 116.6h0M289.0 126.9h0M293.8 95.4h0M290.4 107.9h0M291.3 116.5h0M287.7 123.2h0M288.9 120.3h0M289.2 116.7h0M292.5 86.4h0M285.2 134.2h0M286.2 134.1h0M292.6 107.4h0M286.0 130.4h0M293.6 88.9h0M291.2 104.5h0M292.0 118.5h0M287.5 114.7h0M293.7 74.3h0M294.2 87.7h0M283.3 127.6h0M294.9 110.1h0M289.0 127.0h0M293.5 113.4h0M295.1 133.3h0M295.2 134.2h0M284.3 121.1h0M290.6 132.8h0M289.6 89.7h0M288.0 102.3h0M290.0 113.1h0M284.6 117.1h0M294.0 101.5h0M285.1 118.5h0M289.4 125.8h0M289.8 110.4h0M282.6 128.6h0M290.8 129.8h0M283.3 93.8h0M286.7 84.8h0M289.6 133.0h0M290.6 128.2h0M292.9 99.4h0M292.1 133.7h0M282.8 89.8h0M284.2 129.7h0M282.7 130.8h0M288.5 89.5h0M286.5 128.1h0M293.0 130.4h0M290.5 110.4h0M294.4 133.9h0M289.6 123.7h0M293.0 127.8h0M291.6 130.6h0M288.7 89.5h0M285.4 127.0h0M294.2 101.2h0M283.2 130.0h0M285.4 126.5h0M293.3 100.6h0M295.0 100.4h0M290.5 123.2h0M291.6 116.6h0M283.1 114.0h0M287.3 115.7h0M283.0 134.1h0M295.0 121.1h0M286.6 131.8h0M290.0 90.6h0M284.7 115.0h0M288.8 103.6h0M289.6 129.3h0M284.8 99.5h0M283.4 84.9h0M282.8 129.8h0M288.4 97.6h0M290.3 102.2h0M292.2 100.7h0M283.0 87.8h0M284.3 131.0h0M282.8 134.1h0M293.7 121.3h0M283.5 133.8h0M293.3 107.9h0M294.2 134.0h0M283.8 126.0h0M284.8 132.5h0M284.9 105.9h0M284.5 130.9h0M289.3 124.2h0M284.3 110.1h0M288.9 123.9h0M288.5 134.0h0M290.3 130.6h0M286.7 134.3h0M293.8 108.2h0M287.4 115.2h0M294.5 131.8h0M287.3 104.8h0M287.1 104.7h0M294.1 133.9h0M286.0 126.6h0M292.0 96.3h0M291.4 86.4h0M284.7 121.2h0M293.4 95.3h0M283.8 75.2h0M291.9 90.0h0M287.0 111.0h0M294.7 80.7h0M289.8 93.0h0M295.2 85.1h0M290.8 84.9h0M284.2 120.3h0M289.6 132.4h0M292.4 133.6h0M290.5 127.6h0M286.5 110.3h0M284.8 118.2h0M293.4 75.6h0M285.7 123.2h0M291.3 130.5h0M293.3 129.8h0M289.5 125.6h0M282.4 134.3h0M282.4 123.3h0M285.9 79.9h0M290.6 133.6h0M291.6 129.0h0M288.6 106.0h0M293.4 80.4h0M287.8 126.3h0M287.5 126.4h0M291.9 118.0h0M291.2 131.7h0M292.5 80.0h0M285.0 107.6h0M284.4 134.2h0M287.7 133.5h0M291.8 131.0h0M291.1 120.8h0M283.1 133.9h0M282.8 131.9h0M293.0 129.8h0M289.4 126.7h0M287.1 133.8h0M290.6 134.2h0M285.3 134.2h0M284.4 134.0h0M289.2 133.8h0M290.1 127.5h0M286.8 133.8h0M291.0 129.2h0M293.8 131.1h0M289.9 126.5h0M291.1 119.9h0M286.0 128.5h0M290.5 131.8h0M282.5 131.8h0M285.7 130.7h0M288.9 131.5h0M283.1 133.7h0M290.2 129.8h0M295.1 128.1h0M286.1 131.9h0M288.9 127.9h0M287.4 124.4h0M288.6 132.3h0M288.5 132.6h0M295.3 134.1h0M287.5 134.0h0M291.1 133.7h0M284.3 132.1h0M290.1 128.7h0M288.1 132.9h0M287.1 125.7h0M285.1 134.3h0M293.8 131.7h0M284.1 133.7h0M293.8 128.9h0M283.2 129.9h0M285.1 132.0h0M290.2 134.1h0M294.4 132.7h0M284.2 128.4h0M283.8 134.2h0M290.8 131.8h0M294.0 128.2h0M285.0 134.1h0M290.1 131.8h0M286.2 124.6h0M285.0 130.3h0M283.3 124.2h0M294.6 130.5h0M286.5 129.3h0M294.0 128.1h0M282.9 131.6h0M284.1 131.2h0M294.6 126.5h0M285.6 131.2h0M286.4 133.6h0M291.9 128.7h0M286.7 132.2h0M291.3 129.2h0M288.3 133.8h0M283.6 133.6h0M293.0 131.6h0M290.7 132.5h0M287.1 133.5h0M294.9 130.7h0M284.0 129.6h0M290.1 130.6h0M292.3 130.6h0M293.7 120.6h0M287.6 130.2h0M287.2 132.2h0M287.1 130.2h0M286.9 132.6h0M293.3 128.0h0M291.1 127.0h0M287.3 130.3h0M285.6 132.8h0M283.6 128.0h0M294.2 132.9h0M287.2 133.8h0M284.2 130.3h0M293.9 134.0h0M285.6 128.7h0M285.3 126.1h0M286.9 131.8h0M284.9 133.0h0M287.8 133.0h0M291.8 134.2h0M290.6 127.9h0M286.6 133.5h0M283.9 134.0h0M292.6 130.7h0M282.5 131.9h0M290.1 132.8h0M282.8 132.2h0M286.9 120.3h0M287.0 124.3h0M293.6 131.0h0M284.0 127.8h0M283.5 131.1h0M283.6 133.9h0M287.6 133.6h0M295.2 130.9h0M293.9 122.0h0M292.1 130.2h0M288.5 128.4h0M291.0 133.6h0M289.2 132.2h0M289.0 129.4h0M291.2 131.0h0M292.5 127.5h0M283.5 133.7h0M283.0 133.6h0M294.7 132.8h0M288.0 131.8h0M289.6 133.0h0M292.4 132.7h0M293.3 127.9h0M282.4 131.2h0M283.5 125.9h0M283.2 133.1h0M292.3 130.8h0M291.0 132.2h0M289.1 133.4h0M288.3 133.1h0M291.1 133.9h0M284.1 133.4h0M289.2 130.9h0M282.4 117.3h0M293.1 132.4h0M284.4 127.5h0M295.0 133.5h0M292.1 127.6h0M294.4 133.4h0M283.9 133.6h0M285.3 125.3h0M294.1 131.8h0M284.0 132.6h0M285.5 130.2h0M291.6 128.4h0M288.0 131.9h0M288.4 132.5h0M288.2 129.8h0M291.5 132.8h0M289.7 133.7h0M282.9 132.4h0M287.0 134.2h0M283.4 132.1h0M294.5 127.2h0M282.7 132.8h0M287.1 132.8h0M284.1 130.8h0M293.2 132.4h0M284.6 133.9h0M282.5 128.6h0M285.3 129.3h0M292.6 134.0h0M284.8 132.8h0M292.3 129.1h0M286.3 131.9h0M286.9 131.8h0M292.6 133.1h0M292.8 124.4h0M290.1 121.8h0M294.5 133.6h0M295.1 133.4h0M292.7 133.8h0M286.3 132.0h0M293.2 129.8h0M285.0 125.4h0M293.5 131.5h0M283.0 133.0h0M286.1 132.2h0M294.5 130.8h0M292.9 134.0h0M285.5 129.2h0M286.7 133.3h0M283.2 134.1h0M287.7 131.2h0M287.5 131.0h0M286.1 134.2h0M291.1 132.7h0M288.7 132.4h0M285.8 134.1h0M286.2 132.9h0M283.8 134.2h0M288.6 134.2h0M293.7 132.6h0M288.1 131.4h0M282.7 133.9h0M292.5 131.1h0M288.7 132.7h0M292.0 131.6h0M292.6 127.2h0M293.9 129.2h0M291.0 131.9h0M289.2 130.9h0M289.1 127.6h0M293.4 134.1h0M292.1 130.5h0M290.1 124.9h0M283.0 131.8h0M287.2 122.7h0M284.5 131.1h0M284.2 128.8h0M288.7 129.1h0M286.3 125.9h0M282.4 133.3h0M291.8 126.0h0M292.4 133.0h0M283.4 129.5h0M291.8 134.1h0M294.4 131.4h0M282.8 131.7h0M286.7 133.9h0M293.8 123.6h0M283.9 132.0h0M285.9 129.9h0M283.8 132.7h0M287.6 131.8h0M288.0 130.8h0M294.5 123.8h0M294.1 127.4h0M285.3 133.2h0M288.3 130.3h0M290.2 132.6h0M295.2 132.8h0M282.6 133.9h0M285.0 129.2h0M293.2 134.1h0M285.4 133.2h0M292.5 125.4h0M285.7 133.9h0M294.8 120.4h0M291.6 131.8h0M292.0 128.6h0M288.9 133.1h0M289.1 130.0h0M286.5 130.3h0M284.2 120.5h0M285.1 133.3h0M294.7 122.6h0M294.3 127.1h0M293.3 127.6h0M289.7 134.0h0M291.8 127.2h0M293.2 134.1h0M283.1 129.2h0M288.6 125.5h0M295.1 132.0h0M291.1 130.0h0M291.3 132.5h0M290.6 134.0h0M294.0 129.3h0M292.7 131.9h0M285.0 132.0h0M291.1 131.2h0M283.7 134.3h0M287.5 133.2h0M285.3 133.3h0M287.7 129.6h0M294.1 129.9h0M282.6 126.4h0M290.2 129.1h0M290.3 132.6h0M286.7 134.0h0M290.9 134.1h0M291.1 124.8h0M291.0 130.7h0M292.8 121.7h0M292.8 116.3h0M288.3 134.2h0M290.3 130.3h0M293.5 130.6h0M287.0 134.3h0M293.1 130.5h0M295.1 130.8h0M293.4 128.5h0M295.1 131.9h0M293.9 132.3h0M282.5 132.8h0M286.9 115.2h0M287.4 133.0h0M291.3 133.9h0M286.3 132.3h0M283.9 130.7h0M287.8 128.0h0M286.7 119.5h0M284.9 131.3h0M285.3 134.2h0M286.2 125.5h0M286.1 131.7h0M289.1 133.1h0M289.3 134.0h0M286.9 133.0h0M292.9 128.5h0M291.4 130.8h0M293.5 129.0h0M283.1 133.8h0M292.0 127.1h0M295.1 128.5h0M284.4 131.0h0M290.4 130.7h0M284.1 120.8h0M288.9 133.1h0M295.0 132.4h0M283.2 130.0h0M285.7 133.3h0M286.2 130.6h0M286.5 130.0h0M294.0 115.9h0M293.8 124.3h0M285.6 127.5h0M283.5 130.9h0M283.3 133.9h0M294.6 133.8h0M291.6 131.4h0M282.4 128.1h0M283.1 125.8h0M292.9 131.6h0M288.1 134.2h0M291.4 134.1h0M289.1 124.1h0M291.1 133.8h0M291.7 129.6h0M286.6 128.5h0M289.8 132.2h0M289.1 133.0h0M286.1 125.7h0M286.9 128.5h0M287.1 133.5h0M282.4 121.3h0M292.0 118.6h0M289.9 134.0h0M284.5 134.1h0M290.3 130.5h0M294.7 132.9h0M285.4 133.3h0M284.2 134.2h0M288.7 132.2h0M287.1 122.5h0M286.4 127.4h0M289.2 133.9h0M282.7 130.6h0M293.6 134.1h0M291.4 133.3h0M291.2 127.3h0M291.7 133.2h0M284.4 120.9h0M294.2 124.2h0M289.3 134.1h0M287.1 124.9h0M283.2 132.9h0M282.9 126.0h0M286.9 134.0h0M286.9 133.4h0M287.9 130.6h0M290.8 133.9h0M289.2 134.1h0M288.0 127.8h0M285.7 127.5h0M285.5 132.3h0M292.6 134.3h0M289.5 131.3h0M291.6 122.7h0M291.3 133.3h0M284.9 131.7h0M286.0 131.1h0M283.5 129.7h0M287.7 134.1h0M283.9 123.6h0M293.3 126.0h0M287.4 118.0h0M284.5 129.2h0M294.5 133.4h0M282.4 133.8h0M283.4 127.9h0M290.2 131.8h0M283.8 130.3h0M284.1 133.7h0M290.0 130.3h0M292.7 127.4h0M284.1 132.9h0M284.2 131.7h0M282.7 126.4h0M291.1 127.8h0M288.6 124.8h0M293.1 127.4h0M292.8 133.3h0M286.8 134.1h0M292.2 131.8h0M295.1 133.0h0M283.1 26.8h0M283.1 31.3h0M284.6 49.1h0M294.9 48.1h0M292.5 48.2h0M284.4 25.4h0M284.0 67.6h0M282.8 54.2h0M283.0 27.8h0M283.7 56.9h0M283.4 40.0h0M285.2 74.6h0M285.2 73.1h0M283.6 32.2h0M294.2 34.6h0M293.9 44.0h0M293.8 77.6h0M284.2 33.4h0M283.7 64.9h0M284.9 60.3h0M292.7 67.8h0M284.2 73.8h0M285.1 78.0h0M293.1 68.8h0M282.7 38.6h0M283.2 48.6h0M283.1 64.9h0M292.7 49.2h0M282.5 47.5h0M283.0 76.8h0M292.4 76.7h0M292.8 75.2h0M283.1 71.2h0M284.7 59.3h0M282.9 33.9h0M283.6 28.5h0M292.8 45.6h0M284.3 48.2h0M282.4 57.7h0M283.3 66.7h0M284.8 72.5h0M282.9 49.4h0M294.9 34.7h0M283.4 48.8h0M293.9 63.1h0M293.4 31.1h0M285.5 57.5h0M284.1 27.3h0M292.3 66.6h0M282.9 78.4h0M292.3 50.6h0M283.7 42.0h0M294.5 53.5h0M284.6 53.8h0M293.7 64.0h0M283.7 26.4h0M292.9 38.2h0M284.6 58.8h0M284.0 30.8h0M292.6 27.5h0" stroke="#bebebe" stroke-width="1.35" stroke-linecap="round" fill="none"/>
<path d="M266.0 129.3h0M260.4 122.6h0M280.3 133.7h0M282.2 128.5h0M277.2 128.1h0M276.1 130.6h0M276.8 128.3h0M278.2 129.1h0M277.8 128.9h0M281.9 127.0h0M277.4 130.7h0M268.1 130.0h0M281.6 129.6h0M280.5 133.1h0M273.4 133.0h0M277.3 133.1h0M279.4 96.8h0M281.9 121.5h0M282.3 109.5h0M272.6 130.4h0M278.2 130.3h0M281.6 131.4h0M280.0 121.0h0M281.8 129.2h0M279.7 129.0h0M275.9 128.3h0M280.7 114.1h0M278.6 132.2h0M279.1 121.1h0M282.1 127.5h0M279.6 132.1h0M281.6 132.6h0M280.0 130.7h0M278.6 132.2h0M278.4 130.1h0M275.9 123.7h0M281.2 109.7h0M279.1 131.6h0M281.1 126.2h0M280.0 126.8h0M281.1 121.5h0M281.1 121.0h0M280.0 131.0h0M278.8 129.5h0M279.1 128.9h0M270.2 125.4h0M281.9 105.5h0M282.2 133.9h0M275.4 132.2h0M282.2 133.0h0M279.5 122.2h0M282.2 133.1h0M282.3 133.9h0M280.8 129.9h0M268.3 127.5h0M274.5 128.5h0M272.5 127.0h0M281.2 131.3h0M279.7 133.5h0M271.8 130.0h0M281.4 129.9h0M275.7 132.2h0M278.7 133.7h0M281.2 132.9h0M279.5 126.7h0M281.3 126.7h0M278.7 125.2h0M260.3 126.2h0M259.5 123.8h0M279.4 133.0h0M282.0 127.5h0M281.9 134.1h0M282.0 129.2h0M281.4 132.3h0M276.4 130.4h0M281.7 126.9h0M261.0 123.4h0M279.9 129.3h0M277.4 122.4h0M276.1 132.4h0M276.2 133.6h0M281.8 129.7h0M281.5 128.9h0M281.0 115.6h0M280.0 123.3h0M270.6 130.4h0M276.4 129.9h0M280.2 133.4h0M278.0 117.7h0M277.6 131.8h0M279.3 131.4h0M280.3 124.6h0M282.3 130.0h0M279.4 133.3h0M277.0 132.4h0M280.2 132.4h0M278.6 130.6h0M277.6 130.7h0M276.1 129.1h0M281.9 129.9h0M281.1 132.0h0M270.3 130.0h0M276.9 133.2h0M278.3 133.5h0M281.3 133.4h0M282.2 118.8h0M268.8 131.3h0M282.3 125.7h0M277.9 134.0h0M276.4 133.8h0M281.2 124.5h0M276.4 132.6h0M279.4 123.8h0M278.6 129.4h0M281.5 133.8h0M281.5 129.4h0M278.6 130.3h0M278.2 128.9h0M278.1 130.8h0M274.8 129.4h0M273.7 106.5h0M275.2 124.6h0M277.6 129.1h0M281.2 133.6h0M277.9 132.4h0M278.5 129.1h0M278.5 130.6h0M281.2 131.9h0M277.5 120.1h0M280.8 131.8h0M279.9 130.6h0M278.3 125.1h0M276.4 123.5h0M277.1 111.0h0M279.9 130.4h0M278.0 131.8h0M275.1 130.8h0M279.0 129.5h0M280.5 134.2h0M281.0 130.1h0M270.1 133.3h0M272.9 110.8h0M276.0 132.2h0M282.2 120.4h0M282.0 132.0h0M271.0 127.0h0M275.3 122.6h0M281.5 129.7h0M281.9 131.2h0M279.5 123.2h0M280.9 127.1h0M281.7 132.4h0M282.1 128.6h0M278.7 126.2h0M280.1 116.3h0M277.1 128.8h0M273.9 133.0h0M280.9 129.1h0M278.6 114.0h0M277.7 134.0h0M270.6 130.2h0M281.4 124.9h0M278.3 121.7h0M279.1 132.4h0M279.7 130.2h0M280.6 128.6h0M281.7 132.4h0M281.8 134.1h0M279.3 125.6h0M280.2 119.1h0M278.5 127.3h0M280.9 119.3h0M280.6 122.1h0M281.2 114.5h0M277.6 133.0h0M277.0 133.2h0M280.3 131.2h0M280.7 131.4h0M281.6 131.0h0M281.9 123.9h0M280.5 126.2h0M280.0 110.3h0M273.7 126.3h0M274.9 118.3h0M271.5 130.8h0M278.7 133.8h0M280.5 131.7h0M278.4 134.3h0M276.6 133.8h0M280.1 130.0h0M274.8 127.8h0M281.7 127.1h0M281.2 128.0h0M280.1 113.9h0M279.9 132.2h0M280.8 113.7h0M280.6 132.5h0M279.2 127.1h0M270.9 133.8h0M280.7 125.9h0M279.5 126.6h0M277.8 133.7h0M282.1 133.0h0M280.8 133.0h0M280.9 133.5h0M282.2 129.4h0M276.6 133.2h0M281.9 125.8h0M282.0 133.3h0M279.6 132.0h0M276.1 129.7h0M279.3 131.2h0M282.2 123.1h0M280.3 122.9h0M281.9 130.6h0M279.2 133.2h0M282.0 116.4h0M271.0 60.1h0M279.1 125.7h0M278.6 130.1h0M281.5 127.6h0M279.9 126.9h0M282.1 132.0h0M281.8 124.9h0M279.7 132.1h0M276.1 129.5h0M280.9 131.0h0M282.3 133.9h0M282.2 113.0h0M273.8 129.2h0M270.8 129.2h0M277.7 133.6h0M280.0 128.1h0M280.2 127.4h0M280.6 127.4h0M281.4 129.9h0M280.0 129.4h0M282.1 132.5h0M277.2 133.1h0M279.7 100.4h0M278.5 125.7h0M276.3 111.8h0M280.3 131.0h0M276.6 134.1h0M279.7 132.2h0M279.0 125.7h0M274.3 129.7h0M277.5 133.8h0M277.9 117.0h0M278.4 129.9h0M279.4 130.8h0M281.5 132.9h0M275.9 129.6h0M282.2 128.1h0M275.1 127.4h0M281.5 114.5h0M281.5 129.7h0M279.8 133.1h0M281.1 133.0h0M281.6 134.0h0M278.1 127.1h0M281.1 114.5h0M280.1 130.3h0M271.7 127.5h0M279.8 125.3h0M276.8 131.9h0M282.0 125.7h0M276.7 128.3h0M281.8 125.4h0M281.5 123.9h0M278.4 127.7h0M282.0 131.3h0M277.0 133.5h0M282.2 130.8h0M274.5 127.8h0M281.3 133.7h0M275.0 122.2h0M277.4 132.8h0M276.7 134.2h0M281.5 131.8h0M269.6 134.1h0M281.6 125.7h0M276.5 132.3h0M282.0 121.7h0M268.0 118.7h0M278.9 133.7h0M276.8 127.5h0M275.1 125.0h0M279.5 109.8h0M279.8 130.4h0M278.2 124.2h0M278.7 115.8h0M281.0 119.5h0M273.8 131.5h0M282.2 128.3h0M278.4 113.3h0M279.0 125.9h0M276.5 133.1h0M277.9 130.5h0M281.3 132.2h0M280.5 125.6h0M279.1 131.8h0M282.1 124.2h0M276.6 122.5h0M276.1 133.9h0M281.0 130.2h0M280.9 123.0h0M281.4 134.2h0M279.9 134.0h0M282.2 128.2h0M278.5 129.2h0M282.0 128.9h0M279.3 131.9h0M281.3 133.2h0M279.6 131.3h0M278.7 127.0h0M281.0 128.2h0M281.1 125.4h0M281.4 128.4h0M276.9 123.8h0M279.2 118.4h0M264.9 123.0h0M280.5 132.3h0M278.3 133.4h0M281.5 133.7h0M278.0 131.1h0M272.0 123.6h0M279.2 131.6h0M280.7 133.9h0M281.8 120.9h0M280.9 134.2h0M266.4 130.8h0M276.3 130.4h0M268.3 133.7h0M279.7 127.5h0M282.2 118.0h0M280.6 126.9h0M282.0 133.8h0M281.9 124.2h0M270.8 118.1h0M279.2 133.7h0M276.2 129.7h0M276.1 127.7h0M278.9 133.1h0M281.7 133.7h0M280.0 132.1h0M269.8 134.0h0M276.5 133.5h0M281.9 117.6h0M281.3 128.4h0M278.7 131.0h0M280.6 133.3h0M277.5 131.3h0M278.6 123.2h0M282.0 130.7h0M280.5 116.7h0M278.4 132.9h0M279.8 134.2h0M279.4 133.8h0M281.7 129.7h0M279.2 132.7h0M278.8 131.9h0M277.4 133.9h0M274.8 130.4h0M281.5 132.1h0M278.3 133.6h0M272.4 132.7h0M280.2 133.8h0M279.8 113.0h0M281.5 133.0h0M279.1 127.6h0M281.7 132.7h0M278.6 132.5h0M282.2 126.6h0M274.1 123.6h0M274.5 132.7h0M280.8 128.3h0M278.4 127.9h0M279.0 132.6h0M281.2 133.7h0M282.1 128.6h0M281.9 120.6h0M269.4 133.3h0M268.6 127.9h0M282.3 131.1h0M280.5 131.9h0M282.0 132.5h0M282.2 130.4h0M279.6 132.6h0M271.8 120.1h0M279.5 123.7h0M280.5 125.2h0M276.2 131.5h0M276.8 131.5h0M281.5 130.8h0M281.8 126.0h0M281.1 129.8h0M275.6 128.3h0M272.6 125.9h0M277.5 125.5h0M277.6 117.9h0M278.6 127.2h0M279.1 129.3h0M270.8 132.0h0M281.5 129.8h0M280.8 126.1h0M278.2 134.3h0M281.4 128.0h0M280.3 126.9h0M279.7 133.5h0M277.6 110.6h0M281.9 128.1h0M278.5 128.1h0M279.5 129.7h0M263.9 119.1h0M280.0 123.4h0M277.8 123.6h0M257.2 123.6h0M281.3 132.6h0M275.4 117.5h0M281.3 130.0h0M273.4 125.9h0M278.7 119.7h0M271.9 133.7h0M268.6 132.1h0M278.4 125.2h0M280.9 131.9h0M272.7 124.1h0M267.1 133.5h0M278.3 125.5h0M269.6 125.9h0M281.0 133.6h0M281.5 132.3h0M278.9 131.8h0M281.7 133.7h0M277.6 123.3h0M281.8 129.6h0M266.4 131.0h0M279.2 123.4h0M282.2 120.8h0M276.3 125.6h0M280.6 129.9h0M270.9 133.9h0M282.0 127.6h0M269.9 133.2h0M281.5 130.3h0M276.0 128.9h0M277.9 134.0h0M281.4 128.6h0M277.1 133.7h0M281.9 131.8h0M280.1 131.7h0M281.6 133.8h0M278.1 114.3h0M278.2 117.9h0M281.8 128.1h0M280.5 122.0h0M278.6 128.1h0M272.3 114.0h0M281.7 130.5h0M281.9 128.9h0M281.3 126.5h0M280.5 134.2h0M273.4 133.4h0M281.0 129.5h0M282.1 124.6h0M277.2 133.5h0M278.4 133.4h0M279.2 133.7h0M281.0 130.4h0M279.1 127.4h0M271.7 131.6h0M280.6 132.8h0M276.9 131.3h0M281.3 132.9h0M280.1 122.5h0M280.0 123.3h0M279.7 128.6h0M281.1 130.9h0M277.1 133.7h0M279.9 132.4h0M280.9 131.6h0M281.4 128.7h0M282.1 132.5h0M281.1 133.0h0M275.0 126.7h0M273.4 133.4h0M281.5 131.8h0M279.4 122.6h0M275.0 121.5h0M282.2 134.1h0M280.6 130.6h0M282.3 131.5h0M281.8 120.8h0M281.4 131.8h0M281.5 122.0h0M281.8 130.5h0M281.3 132.5h0M261.2 121.7h0M276.9 131.4h0M266.9 112.1h0M278.2 132.6h0M282.1 129.2h0M279.6 121.3h0M275.4 132.5h0M265.4 127.3h0M282.2 132.8h0M269.4 123.9h0M276.8 127.2h0M282.2 116.3h0M280.9 124.7h0M279.2 129.9h0M279.3 117.9h0M275.0 131.0h0M274.5 133.0h0M280.6 131.8h0M282.1 131.0h0M282.3 111.7h0M275.4 130.0h0M282.1 132.3h0M276.3 132.0h0M281.9 130.7h0M278.8 133.4h0M280.4 129.0h0M276.8 130.9h0M263.1 129.9h0M276.7 133.8h0M272.3 129.2h0M281.5 123.3h0M273.6 133.4h0M273.6 113.5h0M280.5 124.1h0M277.1 128.8h0M280.3 131.9h0M275.4 124.3h0M270.5 133.8h0M278.9 126.3h0M281.3 134.2h0M273.2 124.4h0M277.2 131.7h0M280.0 123.4h0M281.9 125.9h0M277.3 130.2h0M269.9 127.8h0M273.6 132.9h0M280.2 132.0h0M279.5 125.1h0M263.0 116.1h0M274.5 110.1h0M276.9 125.6h0M281.9 130.9h0M279.6 133.6h0M272.9 131.3h0M281.2 133.7h0M279.2 131.6h0M270.3 127.7h0M280.0 133.2h0M282.1 126.7h0M278.5 129.8h0M279.4 130.9h0M272.7 133.9h0M281.2 124.0h0M280.8 131.7h0M280.0 132.0h0M276.5 133.6h0M279.0 126.1h0M280.6 125.8h0M280.5 127.9h0M281.9 131.8h0M279.0 128.1h0M279.8 134.1h0M279.2 121.2h0M281.0 132.8h0M278.4 132.6h0M281.9 133.8h0M278.3 120.4h0M276.3 128.5h0M273.9 122.0h0M281.0 131.2h0M267.5 115.6h0M278.2 127.8h0M280.6 133.7h0M280.7 132.6h0M278.3 127.3h0M278.3 118.5h0M282.3 132.8h0M281.9 131.3h0M272.4 130.2h0M275.8 133.0h0M280.5 123.8h0M280.9 125.7h0M278.6 127.3h0M282.2 131.4h0M265.4 130.4h0M281.0 86.4h0M278.7 126.5h0M279.6 127.9h0M280.3 132.2h0M280.9 132.6h0M277.5 133.7h0M281.8 129.7h0M263.7 122.4h0M277.8 125.5h0M281.4 129.6h0M282.2 129.5h0M282.2 133.5h0M281.8 131.5h0M279.7 132.7h0M282.0 133.5h0M270.2 106.9h0M272.4 133.3h0M281.4 120.5h0M282.2 133.2h0M278.1 112.6h0M271.8 122.2h0M280.8 125.7h0M271.1 119.3h0M268.0 124.9h0M276.0 126.4h0M280.1 128.7h0M271.5 128.8h0M282.2 130.4h0M274.0 126.2h0M279.6 116.5h0M276.6 132.6h0M277.4 121.0h0M282.3 116.3h0M280.0 122.0h0M282.3 131.8h0M280.8 132.7h0M278.0 123.9h0M278.1 118.6h0M281.8 132.1h0M280.2 124.0h0M276.9 103.7h0M274.0 129.4h0M276.9 123.2h0M279.3 126.9h0M274.5 122.7h0M281.6 134.1h0M277.3 123.3h0M281.5 121.9h0M276.6 133.1h0M281.6 127.3h0M278.4 133.2h0M272.6 132.7h0M275.0 115.3h0M281.8 126.4h0M279.1 118.2h0M263.5 131.9h0M266.0 133.0h0M264.9 132.5h0M268.3 133.6h0M268.5 133.7h0M257.6 124.5h0M261.8 130.3h0M267.9 133.6h0M262.9 131.1h0M268.3 134.2h0M266.0 133.1h0M268.4 134.3h0M264.3 132.5h0M258.8 126.0h0M265.9 133.1h0M264.5 132.3h0M261.0 129.6h0M263.2 131.6h0M263.3 131.6h0M260.6 128.9h0M262.6 130.8h0M260.7 129.2h0M267.1 133.9h0M257.6 124.4h0M258.4 125.3h0M260.5 128.8h0M260.0 128.0h0M257.6 124.3h0M261.2 129.5h0M261.3 130.0h0M262.0 130.5h0M260.7 128.8h0M266.3 133.5h0M265.7 132.8h0M263.0 131.4h0M257.4 123.8h0M258.6 126.1h0M267.2 133.8h0M267.7 133.9h0M263.4 131.8h0M257.3 123.7h0M266.7 133.9h0M260.7 129.0h0M263.9 132.1h0M263.9 132.0h0M273.6 133.2h0M275.6 128.2h0M273.8 121.1h0M268.4 63.5h0M269.1 113.9h0M275.4 131.8h0M269.5 129.7h0M277.7 115.7h0M279.3 92.1h0M274.6 57.9h0M282.1 121.1h0M278.5 116.2h0M272.1 115.3h0M276.7 124.5h0M268.8 117.2h0M279.3 80.3h0M279.8 132.6h0M274.8 83.1h0M263.5 96.3h0M273.1 119.1h0M279.0 130.5h0M276.6 96.3h0M274.4 49.7h0M266.6 117.3h0M273.6 122.8h0M259.2 89.4h0M280.4 85.1h0M271.3 124.8h0M269.0 122.7h0M270.8 119.4h0M272.6 80.5h0M260.8 115.6h0M277.5 107.7h0M271.6 132.2h0M275.4 127.4h0M272.1 130.4h0M278.9 128.1h0M279.1 116.6h0M262.9 110.0h0M272.2 103.9h0M277.5 122.5h0M272.1 129.4h0M268.7 80.5h0M261.6 129.0h0M258.2 120.5h0M281.0 113.9h0M278.2 130.1h0M273.2 118.0h0M274.8 119.1h0M273.0 102.4h0M269.9 108.3h0M265.2 119.9h0M272.4 131.8h0M281.5 121.5h0M271.2 128.6h0M279.0 120.0h0M276.2 59.3h0M280.7 128.2h0M272.5 124.8h0M278.2 131.3h0M258.1 113.2h0M273.9 128.3h0M281.2 108.9h0M281.6 118.2h0M278.5 70.4h0M276.7 95.6h0M282.0 128.6h0M277.8 133.5h0M279.4 124.7h0M275.0 124.1h0M278.8 120.7h0M276.1 130.0h0M275.2 116.1h0M274.0 105.7h0M276.4 129.2h0M281.1 126.6h0M277.1 123.0h0M280.0 92.5h0M278.8 117.5h0M273.2 131.3h0M276.8 131.3h0M274.7 106.5h0M263.6 72.8h0M281.1 121.3h0M271.6 124.4h0M275.7 91.1h0M281.6 123.9h0M270.7 95.7h0M275.7 92.8h0M268.4 123.0h0M270.3 118.9h0M281.1 85.6h0M264.2 85.5h0M279.7 102.5h0M281.9 119.6h0M278.8 119.4h0M277.6 117.4h0M276.8 104.1h0M271.9 127.4h0M280.2 128.5h0M278.5 122.6h0M275.5 103.6h0M279.4 126.9h0M275.2 134.2h0M272.5 133.5h0M273.5 115.5h0M277.6 35.3h0M278.7 133.9h0M281.2 128.5h0M269.3 105.8h0M278.1 88.8h0M280.6 128.8h0M274.1 118.2h0M267.1 126.3h0M259.7 106.9h0M270.9 116.2h0M280.0 116.7h0M282.2 125.8h0M278.7 128.1h0M267.9 112.1h0M280.9 108.4h0M261.8 129.2h0M282.1 114.8h0M261.6 113.5h0M275.4 123.2h0M274.2 82.7h0M273.4 105.2h0M276.2 88.7h0M268.0 119.2h0M278.8 126.7h0M272.4 132.7h0M275.2 122.5h0M273.4 127.2h0M259.4 113.7h0M265.2 127.0h0M261.0 113.0h0M274.6 122.2h0M274.3 118.1h0M277.9 121.3h0M279.2 121.8h0M279.3 132.6h0M277.9 133.7h0M271.7 132.2h0M259.4 119.5h0M279.2 117.4h0M279.0 107.0h0M278.8 80.4h0M281.9 133.1h0M261.5 105.5h0M279.3 112.5h0M278.0 119.2h0M279.2 117.8h0M272.1 94.6h0M279.4 116.4h0M274.2 90.4h0M275.9 91.9h0M277.2 123.3h0M273.9 118.3h0M278.4 60.5h0M280.4 55.7h0M281.5 80.8h0M282.3 50.1h0M277.8 48.7h0M273.1 46.9h0M282.0 85.9h0M275.7 105.1h0M276.8 43.2h0M281.9 95.9h0M278.9 56.1h0M282.2 67.2h0M281.8 37.7h0M280.3 113.5h0M281.0 113.8h0M276.2 35.1h0M279.0 114.5h0M275.1 91.0h0M279.6 46.2h0M280.2 104.3h0M281.6 49.1h0M282.0 81.0h0M275.3 78.0h0M281.9 56.4h0M281.2 43.9h0M281.1 40.3h0M277.8 98.7h0M280.3 74.7h0M282.0 32.8h0M281.2 59.8h0M282.1 29.4h0M272.1 53.3h0M281.9 55.2h0M280.7 72.2h0M281.7 101.1h0M277.5 60.5h0M278.7 48.4h0M281.0 65.4h0M281.4 55.9h0M280.8 44.4h0M281.4 80.5h0M282.1 111.2h0M281.7 113.2h0M280.9 80.7h0M276.8 110.9h0M271.4 106.2h0M277.7 82.6h0M281.6 59.9h0M281.2 113.3h0M281.9 53.8h0M257.8 23.7h0M273.7 23.9h0M270.6 24.2h0M272.8 24.3h0M267.9 23.8h0M266.9 23.9h0M264.1 24.3h0M257.8 24.0h0M269.3 23.7h0M279.2 23.8h0M257.7 24.0h0M266.2 23.9h0M280.8 24.0h0M252.8 24.3h0M257.1 24.0h0M265.2 23.9h0M265.8 24.5h0M264.5 23.9h0M276.7 24.2h0M253.9 24.7h0M252.9 24.3h0M269.9 24.0h0M262.8 24.4h0M277.0 24.3h0M252.0 23.7h0M257.9 24.0h0M258.9 23.8h0M276.8 24.5h0M253.6 24.6h0M264.5 24.3h0M274.6 24.6h0M266.2 24.1h0M266.4 24.1h0M280.2 24.3h0M254.0 24.4h0M275.9 24.5h0M268.5 24.3h0M269.8 23.8h0M251.3 23.7h0M253.1 24.0h0M278.3 23.7h0M276.6 23.9h0" stroke="#416eab" stroke-width="1.35" stroke-linecap="round" fill="none"/>
<path d="M297.0 134.1h0M299.5 132.4h0M303.8 133.0h0M299.6 130.6h0M295.5 132.1h0M296.7 124.6h0M301.0 116.4h0M296.0 132.8h0M297.1 131.8h0M296.2 125.2h0M295.3 129.3h0M295.8 131.8h0M296.6 130.2h0M306.2 125.6h0M297.5 104.4h0M296.4 132.9h0M299.2 124.7h0M300.3 129.7h0M300.3 131.7h0M306.8 125.5h0M301.6 129.2h0M305.0 130.2h0M307.0 130.5h0M307.0 131.8h0M298.1 128.9h0M298.4 122.2h0M302.6 133.0h0M300.1 129.4h0M297.3 133.5h0M304.6 104.9h0M300.3 128.8h0M295.6 131.8h0M296.8 133.7h0M297.1 131.3h0M297.4 133.8h0M295.8 114.6h0M298.4 132.6h0M297.6 131.4h0M297.9 133.0h0M300.6 116.7h0M299.1 113.4h0M301.9 129.3h0M298.2 126.6h0M297.1 133.8h0M297.6 123.2h0M299.7 134.0h0M302.1 134.0h0M298.1 133.0h0M296.7 132.6h0M299.0 126.2h0M303.7 129.7h0M295.5 134.0h0M295.6 133.4h0M296.0 132.0h0M295.9 121.9h0M297.0 130.0h0M301.3 133.0h0M298.0 134.0h0M297.9 117.1h0M298.5 132.0h0M299.2 129.8h0M298.0 127.7h0M300.1 119.9h0M309.9 112.9h0M301.8 126.8h0M301.6 132.9h0M296.1 122.2h0M297.5 134.2h0M300.6 133.4h0M296.5 117.7h0M296.1 122.9h0M296.5 124.0h0M297.2 128.9h0M299.8 126.0h0M296.2 127.0h0M296.0 132.5h0M301.2 133.2h0M297.4 133.5h0M298.7 133.0h0M297.0 109.2h0M297.6 129.8h0M295.4 132.3h0M295.7 128.0h0M295.9 133.0h0M295.9 125.5h0M299.4 132.0h0M296.8 132.2h0M298.4 128.8h0M295.8 133.2h0M299.1 132.2h0M299.6 133.0h0M295.7 133.8h0M302.9 129.3h0M295.4 131.4h0M299.2 132.7h0M302.2 134.3h0M298.2 128.7h0M296.1 105.9h0M298.4 133.4h0M300.8 134.1h0M299.8 122.5h0M299.3 134.1h0M295.5 122.7h0M302.6 132.2h0M305.5 123.3h0M295.7 120.2h0M295.3 131.7h0M296.2 132.8h0M298.0 134.0h0M308.4 132.8h0M299.8 131.5h0M305.0 128.9h0M298.0 125.0h0M298.5 130.4h0M296.0 123.8h0M299.1 130.2h0M312.6 128.7h0M300.6 133.1h0M297.0 127.8h0M296.5 97.9h0M313.4 125.3h0M300.2 132.2h0M301.0 121.4h0M297.7 128.9h0M299.4 132.4h0M295.5 133.0h0M298.2 127.7h0M302.8 132.3h0M296.0 130.8h0M296.0 132.3h0M297.9 126.8h0M295.7 133.1h0M297.8 129.5h0M296.0 127.3h0M298.5 112.8h0M307.3 127.9h0M295.7 129.5h0M296.5 132.2h0M295.6 126.6h0M299.5 132.2h0M296.3 102.4h0M298.4 126.5h0M296.4 115.7h0M300.2 129.7h0M295.8 130.6h0M295.4 132.8h0M301.2 133.5h0M296.2 131.6h0M308.7 133.1h0M297.4 129.3h0M295.5 128.9h0M295.6 131.8h0M296.8 96.2h0M297.5 132.0h0M296.8 132.0h0M296.0 131.8h0M299.9 131.5h0M296.3 134.0h0M301.3 132.0h0M296.5 122.0h0M308.8 129.1h0M295.6 122.5h0M300.9 134.2h0M296.6 122.5h0M297.8 133.0h0M311.6 132.0h0M296.1 126.6h0M312.2 125.1h0M295.4 134.2h0M296.2 127.2h0M307.8 133.5h0M299.6 127.0h0M295.4 119.1h0M296.8 131.2h0M301.4 129.2h0M299.1 133.9h0M299.1 133.2h0M302.1 124.6h0M299.4 127.5h0M309.9 122.7h0M300.2 131.4h0M295.3 68.7h0M295.5 134.0h0M298.8 102.5h0M297.6 132.8h0M295.4 133.2h0M297.0 131.5h0M296.5 120.5h0M310.2 132.7h0M299.9 133.1h0M297.7 129.8h0M296.8 124.3h0M296.3 123.7h0M300.9 127.8h0M295.6 133.5h0M301.7 113.5h0M296.4 127.1h0M300.8 121.0h0M295.9 132.8h0M295.5 126.6h0M297.0 126.5h0M296.0 127.7h0M296.5 130.5h0M298.8 114.7h0M296.1 124.3h0M295.5 133.0h0M299.9 133.7h0M302.5 120.0h0M296.3 126.3h0M299.4 109.5h0M298.0 131.3h0M303.5 132.3h0M304.8 131.4h0M297.3 122.5h0M300.8 133.0h0M299.5 105.1h0M297.3 129.0h0M299.4 126.0h0M297.2 131.2h0M296.0 127.9h0M296.9 124.2h0M295.5 125.0h0M296.0 121.1h0M302.0 131.4h0M295.7 132.8h0M296.2 109.2h0M301.7 134.1h0M295.3 129.0h0M297.7 129.1h0M302.5 122.4h0M295.9 111.7h0M297.7 130.2h0M295.9 132.5h0M296.1 132.1h0M298.3 132.4h0M296.5 133.5h0M295.6 118.5h0M297.5 130.4h0M295.8 107.4h0M295.3 124.3h0M295.5 132.1h0M297.9 130.3h0M300.0 128.8h0M300.0 133.8h0M296.6 132.2h0M297.8 130.8h0M295.7 133.4h0M295.5 133.9h0M299.3 112.6h0M298.8 132.9h0M299.0 129.8h0M296.6 123.7h0M296.5 131.9h0M295.5 132.5h0M305.3 130.0h0M300.4 129.9h0M296.5 131.4h0M298.1 131.9h0M298.1 134.1h0M297.2 133.5h0M297.8 129.4h0M304.7 120.9h0M304.0 130.5h0M296.7 122.0h0M295.8 131.2h0M295.5 123.4h0M300.6 117.3h0M296.1 122.5h0M299.9 129.2h0M297.6 123.6h0M297.8 115.2h0M305.4 131.3h0M298.3 130.6h0M304.3 121.7h0M297.3 131.3h0M296.8 127.2h0M299.6 128.0h0M298.2 127.0h0M295.3 130.1h0M299.9 125.8h0M301.9 132.6h0M305.5 111.6h0M299.1 123.1h0M296.1 132.9h0M296.2 129.3h0M304.0 131.5h0M305.8 122.7h0M295.5 134.1h0M319.3 118.0h0M301.2 121.4h0M296.7 134.2h0M303.1 116.8h0M297.3 127.2h0M295.3 116.0h0M299.0 109.5h0M299.8 131.4h0M296.1 129.6h0M303.1 129.3h0M298.3 132.7h0M295.9 132.5h0M296.7 130.1h0M306.4 132.2h0M296.3 125.5h0M306.1 132.5h0M296.7 130.8h0M295.5 133.7h0M298.4 132.5h0M296.3 123.6h0M297.8 128.9h0M299.4 125.4h0M305.2 111.4h0M295.8 125.5h0M295.4 133.5h0M296.4 133.4h0M295.9 132.6h0M301.8 124.2h0M298.0 129.1h0M300.7 128.5h0M295.6 130.3h0M296.2 130.1h0M310.1 132.7h0M296.8 128.6h0M299.5 131.9h0M297.2 129.8h0M305.6 134.0h0M303.9 129.0h0M304.9 131.1h0M299.4 134.1h0M296.3 127.5h0M296.8 129.5h0M311.1 128.4h0M299.6 128.9h0M296.4 106.5h0M297.2 134.1h0M297.4 130.8h0M296.2 130.7h0M295.6 115.8h0M298.2 132.1h0M298.4 128.5h0M297.2 123.5h0M297.7 117.6h0M301.0 126.6h0M296.0 126.4h0M310.4 123.1h0M295.5 132.1h0M295.3 127.2h0M303.8 126.7h0M299.5 129.2h0M300.4 129.1h0M301.5 133.2h0M297.8 127.8h0M295.6 128.9h0M304.9 133.7h0M300.4 126.0h0M303.9 112.2h0M299.2 128.4h0M297.8 130.5h0M298.9 131.6h0M301.5 129.1h0M297.5 129.6h0M300.1 122.5h0M301.9 126.2h0M296.4 134.3h0M295.8 133.7h0M298.0 133.8h0M297.8 125.1h0M297.6 120.8h0M297.0 130.0h0M296.5 133.4h0M298.6 133.4h0M295.9 132.1h0M300.4 109.1h0M296.2 132.5h0M308.9 128.6h0M301.5 88.1h0M299.5 132.4h0M310.9 119.3h0M295.3 111.9h0M299.4 132.6h0M297.8 132.0h0M301.1 131.0h0M295.6 119.9h0M296.9 133.1h0M300.0 133.4h0M298.9 130.5h0M295.8 114.1h0M299.9 133.9h0M304.2 127.5h0M302.0 124.7h0M296.0 131.8h0M296.0 123.4h0M306.8 128.7h0M299.6 109.8h0M298.2 130.5h0M296.6 106.4h0M295.8 132.9h0M302.7 134.1h0M296.2 129.4h0M296.3 131.1h0M295.4 127.1h0M295.6 132.1h0M295.7 126.5h0M296.2 129.0h0M295.4 128.8h0M296.9 118.7h0M296.1 132.0h0M303.2 133.9h0M297.9 130.0h0M296.6 133.1h0M298.0 134.1h0M295.3 132.1h0M297.1 132.4h0M300.1 130.8h0M298.9 128.5h0M300.1 116.8h0M298.5 126.6h0M298.5 133.8h0M302.3 129.4h0M295.4 125.4h0M316.4 127.5h0M315.1 129.7h0M322.3 114.1h0M320.4 119.6h0M315.4 129.2h0M322.3 114.5h0M319.4 121.9h0M317.2 126.8h0M313.1 132.2h0M323.6 110.9h0M312.2 133.0h0M321.1 117.7h0M313.5 131.9h0M319.0 122.7h0M318.5 123.8h0M317.8 125.6h0M320.8 118.3h0M311.4 133.3h0M323.6 110.1h0M321.1 117.5h0M311.3 133.0h0M321.2 117.8h0M322.5 113.5h0M322.6 113.3h0M310.3 134.0h0M320.9 118.5h0M314.1 130.7h0M321.3 117.3h0M315.1 129.6h0M323.8 109.8h0M314.1 131.2h0M311.7 133.0h0M319.7 121.6h0M320.0 120.4h0M317.5 125.9h0M315.1 130.2h0M316.9 126.8h0M322.2 114.5h0M318.6 124.0h0M321.7 116.1h0M323.3 111.1h0M310.3 134.1h0M309.7 133.7h0M316.3 127.9h0M313.8 131.3h0M296.3 129.4h0M308.2 128.8h0M296.5 112.1h0M322.0 70.5h0M307.5 134.1h0M296.9 115.8h0M302.7 95.8h0M295.6 113.5h0M296.0 104.5h0M296.2 120.2h0M309.7 45.0h0M310.8 101.6h0M298.7 112.7h0M302.9 119.8h0M304.1 121.8h0M299.9 103.8h0M305.4 55.9h0M320.8 84.9h0M296.4 119.4h0M302.0 101.2h0M318.7 119.2h0M295.4 91.1h0M299.3 114.8h0M300.0 124.0h0M305.2 109.3h0M317.8 116.1h0M301.9 121.6h0M302.4 81.3h0M295.6 103.0h0M296.4 119.7h0M305.0 132.6h0M303.7 109.3h0M299.5 117.9h0M300.2 130.8h0M298.2 74.2h0M305.2 117.8h0M311.2 95.3h0M309.0 123.4h0M302.9 126.0h0M295.9 79.4h0M296.1 124.4h0M313.9 123.7h0M318.9 123.0h0M296.9 121.7h0M305.1 100.9h0M317.4 90.3h0M297.3 32.7h0M295.8 121.0h0M299.5 133.8h0M297.5 26.7h0M299.4 24.0h0M308.3 133.6h0M304.3 129.4h0M298.5 107.5h0M297.6 125.1h0M295.3 126.1h0M298.8 131.7h0M296.3 123.2h0M296.1 76.0h0M298.2 124.6h0M295.9 98.8h0M297.3 132.6h0M299.8 82.6h0M319.6 108.5h0M303.7 132.7h0M310.4 47.1h0M297.1 39.3h0M296.4 71.4h0M297.5 63.8h0M297.2 65.9h0M297.2 113.3h0M296.1 43.9h0M299.1 68.7h0M302.3 91.8h0M296.6 78.1h0M304.3 49.0h0M299.3 60.2h0M297.2 29.7h0M301.9 42.6h0M298.3 62.8h0M303.3 67.0h0M304.6 90.3h0M305.3 86.2h0M300.0 101.9h0M298.6 35.2h0M295.5 97.8h0M300.4 55.7h0M304.2 24.1h0M296.0 23.7h0M301.3 24.5h0M334.1 24.0h0M329.6 23.8h0M332.3 23.9h0M336.2 24.2h0M304.2 24.6h0M328.8 23.8h0M305.5 24.6h0" stroke="#e02424" stroke-width="1.35" stroke-linecap="round" fill="none"/>
</g>
<line x1="282.31" y1="24.00" x2="282.31" y2="139.30" stroke="#111" stroke-width="0.8" stroke-dasharray="2.2,1.4"/>
<line x1="295.29" y1="24.00" x2="295.29" y2="139.30" stroke="#111" stroke-width="0.8" stroke-dasharray="2.2,1.4"/>
<line x1="250.40" y1="133.88" x2="342.70" y2="133.88" stroke="#111" stroke-width="0.8" stroke-dasharray="2.2,1.4"/>
<text x="251.60" y="28.94" font-size="3.9" fill="#416eab" textLength="21.4" lengthAdjust="spacingAndGlyphs" stroke="#416eab" stroke-width="0.15">AGR2 CEACAM6</text>
<text x="251.60" y="34.84" font-size="3.9" fill="#416eab" textLength="12.9" lengthAdjust="spacingAndGlyphs" stroke="#416eab" stroke-width="0.15">MUC5AC</text>
<text x="257.00" y="87.84" font-size="3.9" fill="#416eab" textLength="6.8" lengthAdjust="spacingAndGlyphs" stroke="#416eab" stroke-width="0.15">ETV1</text>
<text x="255.50" y="99.94" font-size="3.9" fill="#416eab" textLength="11.5" lengthAdjust="spacingAndGlyphs" stroke="#416eab" stroke-width="0.15">FABP1B</text>
<text x="251.60" y="106.74" font-size="3.9" fill="#416eab" textLength="9.7" lengthAdjust="spacingAndGlyphs" stroke="#416eab" stroke-width="0.15">OSPT2</text>
<text x="256.20" y="114.44" font-size="3.9" fill="#416eab" textLength="12.4" lengthAdjust="spacingAndGlyphs" stroke="#416eab" stroke-width="0.15">BCKDHB</text>
<text x="251.60" y="119.54" font-size="3.9" fill="#416eab" textLength="9.0" lengthAdjust="spacingAndGlyphs" stroke="#416eab" stroke-width="0.15">FAU3B</text>
<text x="257.70" y="123.14" font-size="3.9" fill="#416eab" textLength="9.4" lengthAdjust="spacingAndGlyphs" stroke="#416eab" stroke-width="0.15">SCNN1A</text>
<text x="251.60" y="126.74" font-size="3.9" fill="#416eab" textLength="6.8" lengthAdjust="spacingAndGlyphs" stroke="#416eab" stroke-width="0.15">MUC5B</text>
<text x="316.90" y="28.84" font-size="3.9" fill="#e02424" textLength="21.2" lengthAdjust="spacingAndGlyphs" stroke="#e02424" stroke-width="0.15">EPHA7/TENM2</text>
<text x="333.00" y="34.34" font-size="3.9" fill="#e02424" textLength="8" lengthAdjust="spacingAndGlyphs" stroke="#e02424" stroke-width="0.15">CUX1</text>
<text x="325.90" y="39.64" font-size="3.9" fill="#e02424" textLength="12.0" lengthAdjust="spacingAndGlyphs" stroke="#e02424" stroke-width="0.15">PLXDC2</text>
<text x="315.30" y="53.34" font-size="3.9" fill="#e02424" textLength="7.7" lengthAdjust="spacingAndGlyphs" stroke="#e02424" stroke-width="0.15">VAV3</text>
<text x="321.00" y="81.64" font-size="3.9" fill="#e02424" textLength="6" lengthAdjust="spacingAndGlyphs" stroke="#e02424" stroke-width="0.15">PTN</text>
<text x="318.00" y="91.84" font-size="3.9" fill="#e02424" textLength="8.1" lengthAdjust="spacingAndGlyphs" stroke="#e02424" stroke-width="0.15">CDH6</text>
<text x="320.60" y="99.64" font-size="3.9" fill="#e02424" textLength="14.4" lengthAdjust="spacingAndGlyphs" stroke="#e02424" stroke-width="0.15">TMEM158</text>
<text x="320.40" y="106.14" font-size="3.9" fill="#e02424" textLength="9.6" lengthAdjust="spacingAndGlyphs" stroke="#e02424" stroke-width="0.15">LRFN5</text>
<text x="323.10" y="113.04" font-size="3.9" fill="#e02424" textLength="7.3" lengthAdjust="spacingAndGlyphs" stroke="#e02424" stroke-width="0.15">DLC1</text>
<rect x="250.4" y="24.0" width="92.29999999999998" height="115.30000000000001" fill="none" stroke="#333" stroke-width="0.6"/>
<line x1="248.80" y1="134.30" x2="250.40" y2="134.30" stroke="#333" stroke-width="0.5"/>
<text x="247.80" y="135.88" font-size="4.6" text-anchor="end" fill="#4d4d4d" stroke="#4d4d4d" stroke-width="0.12">0</text>
<line x1="248.80" y1="101.67" x2="250.40" y2="101.67" stroke="#333" stroke-width="0.5"/>
<text x="247.80" y="103.25" font-size="4.6" text-anchor="end" fill="#4d4d4d" stroke="#4d4d4d" stroke-width="0.12">100</text>
<line x1="248.80" y1="69.04" x2="250.40" y2="69.04" stroke="#333" stroke-width="0.5"/>
<text x="247.80" y="70.62" font-size="4.6" text-anchor="end" fill="#4d4d4d" stroke="#4d4d4d" stroke-width="0.12">200</text>
<line x1="248.80" y1="36.41" x2="250.40" y2="36.41" stroke="#333" stroke-width="0.5"/>
<text x="247.80" y="37.99" font-size="4.6" text-anchor="end" fill="#4d4d4d" stroke="#4d4d4d" stroke-width="0.12">300</text>
<line x1="256.35" y1="139.30" x2="256.35" y2="140.90" stroke="#333" stroke-width="0.5"/>
<text x="256.35" y="145.18" font-size="4.6" text-anchor="middle" fill="#4d4d4d" stroke="#4d4d4d" stroke-width="0.12">-10</text>
<line x1="288.80" y1="139.30" x2="288.80" y2="140.90" stroke="#333" stroke-width="0.5"/>
<text x="288.80" y="145.18" font-size="4.6" text-anchor="middle" fill="#4d4d4d" stroke="#4d4d4d" stroke-width="0.12">0</text>
<line x1="321.25" y1="139.30" x2="321.25" y2="140.90" stroke="#333" stroke-width="0.5"/>
<text x="321.25" y="145.18" font-size="4.6" text-anchor="middle" fill="#4d4d4d" stroke="#4d4d4d" stroke-width="0.12">10</text>
<text x="296.3" y="152.8" font-size="5.1" text-anchor="middle" fill="#222" stroke="#222" stroke-width="0.12">log<tspan font-size="3.4" dy="1">2</tspan><tspan dy="-1">(Fold Change)</tspan></text>
<text transform="translate(237.9,81.5) rotate(-90)" font-size="5.1" text-anchor="middle" fill="#222" stroke="#222" stroke-width="0.12">− log<tspan font-size="3.4" dy="1">10</tspan><tspan dy="-1">(P Value)</tspan></text>
<text x="349.05" y="70.55" font-size="4.8" fill="#222" textLength="11.9" lengthAdjust="spacingAndGlyphs" stroke="#222" stroke-width="0.13">Group</text>
<rect x="352.00" y="76.50" width="1.80" height="1.80" fill="#416eab" opacity="0.75"/>
<text x="358.00" y="78.88" font-size="4.3" fill="#222" textLength="28.9" lengthAdjust="spacingAndGlyphs" stroke="#222" stroke-width="0.06">Down-regulated</text>
<rect x="352.00" y="84.40" width="1.80" height="1.80" fill="#bebebe" opacity="0.75"/>
<text x="358.00" y="86.78" font-size="4.3" fill="#222" textLength="25.7" lengthAdjust="spacingAndGlyphs" stroke="#222" stroke-width="0.06">not-significant</text>
<rect x="352.00" y="92.30" width="1.80" height="1.80" fill="#e02424" opacity="0.75"/>
<text x="358.00" y="94.68" font-size="4.3" fill="#222" textLength="23.8" lengthAdjust="spacingAndGlyphs" stroke="#222" stroke-width="0.06">Up-regulated</text>
<text x="466.00" y="14.20" font-size="7.42" font-weight="bold" fill="#000" textLength="98.8" lengthAdjust="spacingAndGlyphs">H2122: resistant vs parental</text>
<rect x="561.20" y="27.60" width="32.80" height="9.20" fill="#e64b35"/>
<text x="514.30" y="33.53" font-size="3.87" font-weight="bold" text-anchor="end" fill="#000" stroke="#000" stroke-width="0.17">HALLMARK_MYC_TARGETS_V1</text>
<line x1="514.80" y1="32.20" x2="516.60" y2="32.20" stroke="#333" stroke-width="0.5"/>
<rect x="561.20" y="38.98" width="31.90" height="9.20" fill="#e64b35"/>
<text x="514.30" y="44.91" font-size="3.87" font-weight="bold" text-anchor="end" fill="#000" stroke="#000" stroke-width="0.17">HALLMARK_MYC_TARGETS_V2</text>
<line x1="514.80" y1="43.58" x2="516.60" y2="43.58" stroke="#333" stroke-width="0.5"/>
<rect x="561.20" y="50.36" width="28.80" height="9.20" fill="#e64b35"/>
<text x="514.30" y="56.29" font-size="3.87" font-weight="bold" text-anchor="end" fill="#000" stroke="#000" stroke-width="0.17">HALLMARK_OXIDATIVE_PHOSPHORYLATION</text>
<line x1="514.80" y1="54.96" x2="516.60" y2="54.96" stroke="#333" stroke-width="0.5"/>
<rect x="561.20" y="61.74" width="22.90" height="9.20" fill="#e64b35"/>
<text x="514.30" y="67.67" font-size="3.87" font-weight="bold" text-anchor="end" fill="#000" stroke="#000" stroke-width="0.17">HALLMARK_MTORC1_SIGNALING</text>
<line x1="514.80" y1="66.34" x2="516.60" y2="66.34" stroke="#333" stroke-width="0.5"/>
<rect x="561.20" y="73.12" width="21.80" height="9.20" fill="#6cc6d2"/>
<text x="514.30" y="79.05" font-size="3.87" font-weight="bold" text-anchor="end" fill="#000" stroke="#000" stroke-width="0.17">HALLMARK_E2F_TARGETS</text>
<line x1="514.80" y1="77.72" x2="516.60" y2="77.72" stroke="#333" stroke-width="0.5"/>
<rect x="537.00" y="84.50" width="24.20" height="9.20" fill="#6cc6d2"/>
<text x="514.30" y="90.43" font-size="3.87" font-weight="bold" text-anchor="end" fill="#000" stroke="#000" stroke-width="0.17">HALLMARK_PROTEIN_SECRETION</text>
<line x1="514.80" y1="89.10" x2="516.60" y2="89.10" stroke="#333" stroke-width="0.5"/>
<rect x="536.00" y="95.88" width="25.20" height="9.20" fill="#6cc6d2"/>
<text x="514.30" y="101.81" font-size="3.87" font-weight="bold" text-anchor="end" fill="#000" stroke="#000" stroke-width="0.17">HALLMARK_INTERFERON_ALPHA_RESPONSE</text>
<line x1="514.80" y1="100.48" x2="516.60" y2="100.48" stroke="#333" stroke-width="0.5"/>
<rect x="535.80" y="107.26" width="25.40" height="9.20" fill="#6cc6d2"/>
<text x="514.30" y="113.19" font-size="3.87" font-weight="bold" text-anchor="end" fill="#000" stroke="#000" stroke-width="0.17">HALLMARK_HYPOXIA</text>
<line x1="514.80" y1="111.86" x2="516.60" y2="111.86" stroke="#333" stroke-width="0.5"/>
<rect x="528.10" y="118.64" width="33.10" height="9.20" fill="#6cc6d2"/>
<text x="514.30" y="124.57" font-size="3.87" font-weight="bold" text-anchor="end" fill="#000" stroke="#000" stroke-width="0.17">HALLMARK_UV_RESPONSE_DN</text>
<line x1="514.80" y1="123.24" x2="516.60" y2="123.24" stroke="#333" stroke-width="0.5"/>
<rect x="520.10" y="130.02" width="41.10" height="9.20" fill="#e64b35"/>
<text x="514.30" y="135.95" font-size="3.87" font-weight="bold" text-anchor="end" fill="#000" stroke="#000" stroke-width="0.17">HALLMARK_EPITHELIAL_MESENCHYMAL_TRANSITION</text>
<line x1="514.80" y1="134.62" x2="516.60" y2="134.62" stroke="#333" stroke-width="0.5"/>
<line x1="516.60" y1="25.20" x2="516.60" y2="141.40" stroke="#333" stroke-width="0.6"/>
<line x1="516.60" y1="141.40" x2="596.70" y2="141.40" stroke="#333" stroke-width="0.6"/>
<line x1="526.80" y1="141.40" x2="526.80" y2="142.90" stroke="#333" stroke-width="0.5"/>
<text x="526.80" y="146.54" font-size="3.9" font-weight="bold" text-anchor="middle" fill="#333">-2</text>
<line x1="544.00" y1="141.40" x2="544.00" y2="142.90" stroke="#333" stroke-width="0.5"/>
<text x="544.00" y="146.54" font-size="3.9" font-weight="bold" text-anchor="middle" fill="#333">-1</text>
<line x1="561.20" y1="141.40" x2="561.20" y2="142.90" stroke="#333" stroke-width="0.5"/>
<text x="561.20" y="146.54" font-size="3.9" font-weight="bold" text-anchor="middle" fill="#333">0</text>
<line x1="578.40" y1="141.40" x2="578.40" y2="142.90" stroke="#333" stroke-width="0.5"/>
<text x="578.40" y="146.54" font-size="3.9" font-weight="bold" text-anchor="middle" fill="#333">1</text>
<line x1="595.60" y1="141.40" x2="595.60" y2="142.90" stroke="#333" stroke-width="0.5"/>
<text x="595.60" y="146.54" font-size="3.9" font-weight="bold" text-anchor="middle" fill="#333">2</text>
<text x="556.80" y="151.85" font-size="4.5" font-weight="bold" text-anchor="middle" fill="#000" textLength="9.3" lengthAdjust="spacingAndGlyphs">NES</text>
<text transform="translate(408.28,83.70) rotate(-90)" x="0" y="0" font-size="4.6" font-weight="bold" text-anchor="middle" fill="#000" stroke="#000" stroke-width="0.17">NAME</text>
<text x="603.80" y="76.74" font-size="3.6" font-weight="bold" fill="#000">FDR</text>
<rect x="603.90" y="80.20" width="6.30" height="5.80" fill="#e64b35"/>
<rect x="603.90" y="86.90" width="6.30" height="6.00" fill="#6cc6d2"/>
<text x="612.80" y="84.11" font-size="3.8" fill="#000" textLength="9.8" lengthAdjust="spacingAndGlyphs" stroke="#000" stroke-width="0.14">&lt;0.25</text>
<text x="612.80" y="90.81" font-size="3.8" fill="#000" textLength="9.8" lengthAdjust="spacingAndGlyphs" stroke="#000" stroke-width="0.14">&gt;0.25</text>
<text x="52.00" y="185.20" font-size="7.45" font-weight="bold" fill="#000" textLength="99" lengthAdjust="spacingAndGlyphs">H2122SR: combo vs control</text>
<rect x="88.90" y="196.80" width="83.10" height="8.10" fill="#e64b35"/>
<text x="83.00" y="201.47" font-size="3.55" font-weight="bold" text-anchor="end" fill="#000" stroke="#000" stroke-width="0.17">HALLMARK_OXIDATIVE_PHOSPHORYLATION</text>
<line x1="83.30" y1="200.25" x2="85.00" y2="200.25" stroke="#333" stroke-width="0.5"/>
<rect x="90.30" y="207.22" width="81.70" height="8.10" fill="#e64b35"/>
<text x="83.00" y="211.89" font-size="3.55" font-weight="bold" text-anchor="end" fill="#000" stroke="#000" stroke-width="0.17">HALLMARK_PROTEIN_SECRETION</text>
<line x1="83.30" y1="210.67" x2="85.00" y2="210.67" stroke="#333" stroke-width="0.5"/>
<rect x="95.10" y="217.64" width="76.90" height="8.10" fill="#e64b35"/>
<text x="83.00" y="222.31" font-size="3.55" font-weight="bold" text-anchor="end" fill="#000" stroke="#000" stroke-width="0.17">HALLMARK_UV_RESPONSE_DN</text>
<line x1="83.30" y1="221.09" x2="85.00" y2="221.09" stroke="#333" stroke-width="0.5"/>
<rect x="96.80" y="228.06" width="75.20" height="8.10" fill="#e64b35"/>
<text x="83.00" y="232.73" font-size="3.55" font-weight="bold" text-anchor="end" fill="#000" stroke="#000" stroke-width="0.17">HALLMARK_HYPOXIA</text>
<line x1="83.30" y1="231.51" x2="85.00" y2="231.51" stroke="#333" stroke-width="0.5"/>
<rect x="96.80" y="238.48" width="75.20" height="8.10" fill="#e64b35"/>
<text x="83.00" y="243.15" font-size="3.55" font-weight="bold" text-anchor="end" fill="#000" stroke="#000" stroke-width="0.17">HALLMARK_TNFA_SIGNALING_VIA_NFKB</text>
<line x1="83.30" y1="241.93" x2="85.00" y2="241.93" stroke="#333" stroke-width="0.5"/>
<rect x="97.80" y="248.90" width="74.20" height="8.10" fill="#e64b35"/>
<text x="83.00" y="253.57" font-size="3.55" font-weight="bold" text-anchor="end" fill="#000" stroke="#000" stroke-width="0.17">HALLMARK_MYC_TARGETS_V1</text>
<line x1="83.30" y1="252.35" x2="85.00" y2="252.35" stroke="#333" stroke-width="0.5"/>
<rect x="97.80" y="259.32" width="74.20" height="8.10" fill="#e64b35"/>
<text x="83.00" y="263.99" font-size="3.55" font-weight="bold" text-anchor="end" fill="#000" stroke="#000" stroke-width="0.17">HALLMARK_PI3K_AKT_MTOR_SIGNALING</text>
<line x1="83.30" y1="262.77" x2="85.00" y2="262.77" stroke="#333" stroke-width="0.5"/>
<rect x="98.00" y="269.74" width="74.00" height="8.10" fill="#e64b35"/>
<text x="83.00" y="274.41" font-size="3.55" font-weight="bold" text-anchor="end" fill="#000" stroke="#000" stroke-width="0.17">HALLMARK_INFLAMMATORY_RESPONSE</text>
<line x1="83.30" y1="273.19" x2="85.00" y2="273.19" stroke="#333" stroke-width="0.5"/>
<rect x="98.30" y="280.16" width="73.70" height="8.10" fill="#e64b35"/>
<text x="83.00" y="284.83" font-size="3.55" font-weight="bold" text-anchor="end" fill="#000" stroke="#000" stroke-width="0.17">HALLMARK_COMPLEMENT</text>
<line x1="83.30" y1="283.61" x2="85.00" y2="283.61" stroke="#333" stroke-width="0.5"/>
<rect x="98.70" y="290.58" width="73.30" height="8.10" fill="#e64b35"/>
<text x="83.00" y="295.25" font-size="3.55" font-weight="bold" text-anchor="end" fill="#000" stroke="#000" stroke-width="0.17">HALLMARK_APOPTOSIS</text>
<line x1="83.30" y1="294.03" x2="85.00" y2="294.03" stroke="#333" stroke-width="0.5"/>
<line x1="85.00" y1="193.00" x2="85.00" y2="300.40" stroke="#333" stroke-width="0.6"/>
<line x1="85.00" y1="300.40" x2="175.80" y2="300.40" stroke="#333" stroke-width="0.6"/>
<line x1="112.60" y1="300.40" x2="112.60" y2="301.90" stroke="#333" stroke-width="0.5"/>
<text x="112.60" y="304.74" font-size="3.6" font-weight="bold" text-anchor="middle" fill="#333">-1.0</text>
<line x1="142.30" y1="300.40" x2="142.30" y2="301.90" stroke="#333" stroke-width="0.5"/>
<text x="142.30" y="304.74" font-size="3.6" font-weight="bold" text-anchor="middle" fill="#333">-0.5</text>
<line x1="172.00" y1="300.40" x2="172.00" y2="301.90" stroke="#333" stroke-width="0.5"/>
<text x="172.00" y="304.74" font-size="3.6" font-weight="bold" text-anchor="middle" fill="#333">0.0</text>
<text x="131.00" y="309.88" font-size="4.3" font-weight="bold" text-anchor="middle" fill="#000">NES</text>
<text transform="translate(4.14,247.50) rotate(-90)" x="0" y="0" font-size="4.2" font-weight="bold" text-anchor="middle" fill="#000" stroke="#000" stroke-width="0.17">NAME</text>
<text x="182.10" y="243.94" font-size="3.3" font-weight="bold" fill="#000">FDR</text>
<rect x="182.10" y="247.20" width="5.90" height="6.00" fill="#e64b35"/>
<text x="189.80" y="251.00" font-size="3.5" fill="#000" textLength="9.2" lengthAdjust="spacingAndGlyphs" stroke="#000" stroke-width="0.14">&lt;0.25</text>
<text x="271.10" y="190.70" font-size="7.4" font-weight="bold" fill="#000" textLength="56.3" lengthAdjust="spacingAndGlyphs">Enrichment plot</text>
<text x="241.00" y="203.80" font-size="7.43" font-weight="bold" fill="#000" textLength="115" lengthAdjust="spacingAndGlyphs">HALLMARK_MYC_TARGETS_V1</text>
<rect x="227.40" y="211.30" width="136.90" height="84.70" fill="#fff"/>
<line x1="246.50" y1="211.30" x2="246.50" y2="271.20" stroke="#ececec" stroke-width="0.45"/>
<line x1="265.60" y1="211.30" x2="265.60" y2="271.20" stroke="#ececec" stroke-width="0.45"/>
<line x1="284.70" y1="211.30" x2="284.70" y2="271.20" stroke="#ececec" stroke-width="0.45"/>
<line x1="303.80" y1="211.30" x2="303.80" y2="271.20" stroke="#ececec" stroke-width="0.45"/>
<line x1="322.90" y1="211.30" x2="322.90" y2="271.20" stroke="#ececec" stroke-width="0.45"/>
<line x1="342.00" y1="211.30" x2="342.00" y2="271.20" stroke="#ececec" stroke-width="0.45"/>
<line x1="361.10" y1="211.30" x2="361.10" y2="271.20" stroke="#ececec" stroke-width="0.45"/>
<line x1="227.40" y1="225.47" x2="364.30" y2="225.47" stroke="#ececec" stroke-width="0.45"/>
<line x1="227.40" y1="234.44" x2="364.30" y2="234.44" stroke="#ececec" stroke-width="0.45"/>
<line x1="227.40" y1="243.41" x2="364.30" y2="243.41" stroke="#ececec" stroke-width="0.45"/>
<line x1="227.40" y1="252.38" x2="364.30" y2="252.38" stroke="#ececec" stroke-width="0.45"/>
<line x1="227.40" y1="261.35" x2="364.30" y2="261.35" stroke="#ececec" stroke-width="0.45"/>
<line x1="227.40" y1="270.32" x2="364.30" y2="270.32" stroke="#ececec" stroke-width="0.45"/>
<line x1="227.40" y1="216.50" x2="364.30" y2="216.50" stroke="#c4c4c4" stroke-width="0.6"/>
<path d="M227.4 216.5 L229.0 217.5 L230.8 218.6 L231.5 217.6 L232.5 217.9 L233.5 216.8 L234.5 216.7 L235.5 217.5 L237.0 218.8 L239.0 219.5 L241.0 219.8 L243.0 220.6 L250.0 225.4 L270.0 239.8 L290.0 254.0 L300.0 261.4 L304.5 264.5 L308.5 266.8 L311.0 266.5 L313.5 265.5 L316.0 267.6 L318.0 267.4 L320.5 267.7 L321.5 267.4 L322.5 263.2 L324.0 261.6 L325.5 261.5 L326.5 258.7 L328.5 256.0 L330.0 253.8 L331.5 251.5 L332.5 250.0 L334.0 248.5 L335.0 245.2 L336.5 241.0 L337.5 237.5 L338.5 235.5 L340.0 234.0 L340.8 231.0 L341.5 228.0 L342.3 224.2 L343.0 221.6 L344.0 220.0 L345.0 218.0 L346.0 216.2 L347.5 215.3 L348.5 214.6 L349.5 215.0 L350.5 214.3 L351.5 214.9 L352.5 214.3 L353.5 214.7 L354.5 214.2 L355.5 214.8 L356.3 215.0 L357.0 215.5 L357.8 216.2" fill="none" stroke="#40f020" stroke-width="1.2" stroke-linejoin="round"/>
<rect x="227.4" y="211.3" width="136.9" height="84.69999999999999" fill="none" stroke="#cfcfcf" stroke-width="0.6"/>
<line x1="227.40" y1="271.20" x2="364.30" y2="271.20" stroke="#cfcfcf" stroke-width="0.6"/>
<rect x="230.70" y="271.60" width="0.80" height="19.40" fill="#666"/>
<rect x="232.70" y="271.60" width="0.90" height="19.40" fill="#444"/>
<rect x="236.00" y="271.60" width="0.60" height="19.40" fill="#bbb"/>
<rect x="238.00" y="271.60" width="1.20" height="19.40" fill="#777"/>
<rect x="239.20" y="271.60" width="1.40" height="19.40" fill="#555"/>
<rect x="240.60" y="271.60" width="1.20" height="19.40" fill="#333"/>
<rect x="241.80" y="271.60" width="1.50" height="19.40" fill="#111"/>
<rect x="305.40" y="271.60" width="1.40" height="19.40" fill="#111"/>
<rect x="306.80" y="271.60" width="1.20" height="19.40" fill="#999"/>
<rect x="308.00" y="271.60" width="2.00" height="19.40" fill="#1a1a1a"/>
<rect x="310.00" y="271.60" width="1.00" height="19.40" fill="#444"/>
<rect x="311.00" y="271.60" width="3.00" height="19.40" fill="#111"/>
<rect x="316.50" y="271.60" width="0.80" height="19.40" fill="#999"/>
<rect x="317.30" y="271.60" width="0.80" height="19.40" fill="#111"/>
<rect x="318.90" y="271.60" width="0.70" height="19.40" fill="#888"/>
<rect x="319.80" y="271.60" width="2.20" height="19.40" fill="#111"/>
<rect x="322.00" y="271.60" width="0.80" height="19.40" fill="#777"/>
<rect x="322.80" y="271.60" width="1.50" height="19.40" fill="#111"/>
<rect x="324.50" y="271.60" width="0.80" height="19.40" fill="#888"/>
<rect x="325.30" y="271.60" width="1.80" height="19.40" fill="#111"/>
<rect x="327.10" y="271.60" width="0.90" height="19.40" fill="#777"/>
<rect x="328.00" y="271.60" width="2.00" height="19.40" fill="#222"/>
<rect x="330.00" y="271.60" width="1.40" height="19.40" fill="#444"/>
<rect x="331.40" y="271.60" width="1.60" height="19.40" fill="#777"/>
<rect x="333.00" y="271.60" width="1.40" height="19.40" fill="#111"/>
<rect x="334.40" y="271.60" width="1.60" height="19.40" fill="#555"/>
<rect x="336.00" y="271.60" width="1.00" height="19.40" fill="#111"/>
<rect x="337.00" y="271.60" width="1.00" height="19.40" fill="#666"/>
<rect x="338.00" y="271.60" width="2.00" height="19.40" fill="#111"/>
<rect x="340.00" y="271.60" width="2.00" height="19.40" fill="#444"/>
<rect x="342.00" y="271.60" width="1.70" height="19.40" fill="#555"/>
<rect x="343.70" y="271.60" width="1.70" height="19.40" fill="#666"/>
<rect x="345.40" y="271.60" width="1.10" height="19.40" fill="#bbb"/>
<rect x="347.00" y="271.60" width="1.00" height="19.40" fill="#999"/>
<rect x="348.50" y="271.60" width="1.00" height="19.40" fill="#aaa"/>
<rect x="349.60" y="271.60" width="0.90" height="19.40" fill="#ccc"/>
<rect x="351.00" y="271.60" width="1.00" height="19.40" fill="#ddd"/>
<rect x="352.10" y="271.60" width="1.40" height="19.40" fill="#bbb"/>
<rect x="353.60" y="271.60" width="1.50" height="19.40" fill="#ddd"/>
<linearGradient id="gr1" x1="0" x2="1"><stop offset="0" stop-color="#e8383c"/><stop offset="1" stop-color="#f0b6ea"/></linearGradient>
<linearGradient id="gb1" x1="0" x2="1"><stop offset="0" stop-color="#c8c8f2"/><stop offset="0.3" stop-color="#8080f0"/><stop offset="1" stop-color="#5050f0"/></linearGradient>
<rect x="227.70" y="291.00" width="9.30" height="5.00" fill="#e8343c"/>
<rect x="237.00" y="291.00" width="6.00" height="5.00" fill="url(#gr1)"/>
<rect x="243.00" y="291.00" width="62.40" height="5.00" fill="#f0b6ea"/>
<rect x="305.40" y="291.00" width="30.60" height="5.00" fill="#cacaf4"/>
<rect x="306.50" y="291.00" width="1.20" height="5.00" fill="#b2b2e8"/>
<rect x="310.00" y="291.00" width="1.20" height="5.00" fill="#b2b2e8"/>
<rect x="313.50" y="291.00" width="1.00" height="5.00" fill="#b2b2e8"/>
<rect x="318.50" y="291.00" width="1.20" height="5.00" fill="#b2b2e8"/>
<rect x="321.50" y="291.00" width="1.50" height="5.00" fill="#b2b2e8"/>
<rect x="326.00" y="291.00" width="2.00" height="5.00" fill="#b2b2e8"/>
<rect x="329.50" y="291.00" width="1.00" height="5.00" fill="#b2b2e8"/>
<rect x="332.50" y="291.00" width="1.50" height="5.00" fill="#b2b2e8"/>
<rect x="336.00" y="291.00" width="4.00" height="5.00" fill="#8282ee"/>
<rect x="340.00" y="291.00" width="12.20" height="5.00" fill="#5c5cf0"/>
<rect x="342.00" y="291.00" width="1.50" height="5.00" fill="#4a4aec"/>
<rect x="346.50" y="291.00" width="1.20" height="5.00" fill="#4a4aec"/>
<rect x="352.20" y="291.00" width="5.10" height="5.00" fill="#1c1cf2"/>
<line x1="227.40" y1="291.00" x2="364.30" y2="291.00" stroke="#dcdcdc" stroke-width="0.4"/>
<line x1="226.60" y1="216.50" x2="227.40" y2="216.50" stroke="#333" stroke-width="0.4"/>
<text x="222.90" y="218.08" font-size="4.6" font-weight="bold" text-anchor="end" fill="#222" stroke="#222" stroke-width="0.12">0.0</text>
<line x1="226.60" y1="225.47" x2="227.40" y2="225.47" stroke="#333" stroke-width="0.4"/>
<text x="222.90" y="227.05" font-size="4.6" font-weight="bold" text-anchor="end" fill="#222" stroke="#222" stroke-width="0.12">-0.1</text>
<line x1="226.60" y1="234.44" x2="227.40" y2="234.44" stroke="#333" stroke-width="0.4"/>
<text x="222.90" y="236.02" font-size="4.6" font-weight="bold" text-anchor="end" fill="#222" stroke="#222" stroke-width="0.12">-0.2</text>
<line x1="226.60" y1="243.41" x2="227.40" y2="243.41" stroke="#333" stroke-width="0.4"/>
<text x="222.90" y="244.99" font-size="4.6" font-weight="bold" text-anchor="end" fill="#222" stroke="#222" stroke-width="0.12">-0.3</text>
<line x1="226.60" y1="252.38" x2="227.40" y2="252.38" stroke="#333" stroke-width="0.4"/>
<text x="222.90" y="253.96" font-size="4.6" font-weight="bold" text-anchor="end" fill="#222" stroke="#222" stroke-width="0.12">-0.4</text>
<line x1="226.60" y1="261.35" x2="227.40" y2="261.35" stroke="#333" stroke-width="0.4"/>
<text x="222.90" y="262.93" font-size="4.6" font-weight="bold" text-anchor="end" fill="#222" stroke="#222" stroke-width="0.12">-0.5</text>
<text transform="translate(207.54,238.20) rotate(-90)" x="0" y="0" font-size="5.35" text-anchor="middle" fill="#000" textLength="44.7" lengthAdjust="spacingAndGlyphs" stroke="#000" stroke-width="0.22">Enrichment score</text>
<text x="232.10" y="249.80" font-size="6.55" font-weight="bold" fill="#000" textLength="32.4" lengthAdjust="spacingAndGlyphs">NES: -1.36</text>
<text x="232.10" y="257.90" font-size="6.55" font-weight="bold" fill="#000" textLength="40.1" lengthAdjust="spacingAndGlyphs">P-value: 0.00</text>
<text x="232.10" y="265.60" font-size="6.55" font-weight="bold" fill="#000" textLength="29.9" lengthAdjust="spacingAndGlyphs">FDR: 0.09</text>
<text x="231.10" y="304.95" font-size="4.8" font-weight="bold" fill="#000" textLength="16.8" lengthAdjust="spacingAndGlyphs">Combo</text>
<text x="338.10" y="304.58" font-size="4.6" font-weight="bold" fill="#000" textLength="16.5" lengthAdjust="spacingAndGlyphs">Control</text>
<text x="399.20" y="197.20" font-size="7.46" font-weight="bold" fill="#000" textLength="115.5" lengthAdjust="spacingAndGlyphs">HALLMARK_MYC_TARGETS_V1</text>
<text x="533.90" y="197.40" font-size="7.46" font-weight="bold" fill="#000" textLength="116.5" lengthAdjust="spacingAndGlyphs">HALLMARK_MYC_TARGETS_V2</text>
<text x="425.40" y="217.92" font-size="4.7" font-weight="bold" text-anchor="end" fill="#000" textLength="39.95" lengthAdjust="spacingAndGlyphs" stroke="#000" stroke-width="0.17">Combo vs control</text>
<line x1="425.80" y1="216.00" x2="428.50" y2="216.00" stroke="#222" stroke-width="0.55"/>
<text x="425.40" y="230.82" font-size="4.7" font-weight="bold" text-anchor="end" fill="#000" textLength="43.6" lengthAdjust="spacingAndGlyphs" stroke="#000" stroke-width="0.17">Combo vs anlotinib</text>
<line x1="425.80" y1="228.90" x2="428.50" y2="228.90" stroke="#222" stroke-width="0.55"/>
<text x="425.40" y="243.72" font-size="4.7" font-weight="bold" text-anchor="end" fill="#000" textLength="45.18" lengthAdjust="spacingAndGlyphs" stroke="#000" stroke-width="0.17">Combo vs sotorasib</text>
<line x1="425.80" y1="241.80" x2="428.50" y2="241.80" stroke="#222" stroke-width="0.55"/>
<text x="425.40" y="256.62" font-size="4.7" font-weight="bold" text-anchor="end" fill="#000" textLength="44.12" lengthAdjust="spacingAndGlyphs" stroke="#000" stroke-width="0.17">Anlotinib vs control</text>
<line x1="425.80" y1="254.70" x2="428.50" y2="254.70" stroke="#222" stroke-width="0.55"/>
<text x="425.40" y="269.52" font-size="4.7" font-weight="bold" text-anchor="end" fill="#000" textLength="45.44" lengthAdjust="spacingAndGlyphs" stroke="#000" stroke-width="0.17">Sotorasib vs control</text>
<line x1="425.80" y1="267.60" x2="428.50" y2="267.60" stroke="#222" stroke-width="0.55"/>
<rect x="451.24" y="211.70" width="46.16" height="8.00" fill="#e64b35"/>
<rect x="441.94" y="237.50" width="55.46" height="8.00" fill="#e64b35"/>
<rect x="453.30" y="250.40" width="44.10" height="8.00" fill="#e64b35"/>
<text x="464.20" y="230.77" font-size="4.57" font-weight="bold" fill="#000" textLength="27.9" lengthAdjust="spacingAndGlyphs">Not enriched</text>
<text x="464.20" y="269.47" font-size="4.57" font-weight="bold" fill="#000" textLength="27.9" lengthAdjust="spacingAndGlyphs">Not enriched</text>
<line x1="428.50" y1="207.00" x2="428.50" y2="275.80" stroke="#222" stroke-width="0.7"/>
<line x1="428.50" y1="275.80" x2="497.40" y2="275.80" stroke="#222" stroke-width="0.7"/>
<line x1="497.40" y1="207.00" x2="497.40" y2="275.80" stroke="#333" stroke-width="0.7"/>
<line x1="428.50" y1="275.80" x2="428.50" y2="277.70" stroke="#222" stroke-width="0.55"/>
<text x="428.50" y="283.98" font-size="4.0" font-weight="bold" text-anchor="middle" fill="#000">-2</text>
<line x1="462.95" y1="275.80" x2="462.95" y2="277.70" stroke="#222" stroke-width="0.55"/>
<text x="462.95" y="283.98" font-size="4.0" font-weight="bold" text-anchor="middle" fill="#000">-1</text>
<line x1="497.40" y1="275.80" x2="497.40" y2="277.70" stroke="#222" stroke-width="0.55"/>
<text x="497.40" y="283.98" font-size="4.0" font-weight="bold" text-anchor="middle" fill="#000">0</text>
<text x="462.90" y="291.58" font-size="4.6" font-weight="bold" text-anchor="middle" fill="#000">NES</text>
<text x="561.40" y="217.92" font-size="4.7" font-weight="bold" text-anchor="end" fill="#000" textLength="39.95" lengthAdjust="spacingAndGlyphs" stroke="#000" stroke-width="0.17">Combo vs control</text>
<line x1="561.80" y1="216.00" x2="564.60" y2="216.00" stroke="#222" stroke-width="0.55"/>
<text x="561.40" y="230.82" font-size="4.7" font-weight="bold" text-anchor="end" fill="#000" textLength="43.6" lengthAdjust="spacingAndGlyphs" stroke="#000" stroke-width="0.17">Combo vs anlotinib</text>
<line x1="561.80" y1="228.90" x2="564.60" y2="228.90" stroke="#222" stroke-width="0.55"/>
<text x="561.40" y="243.72" font-size="4.7" font-weight="bold" text-anchor="end" fill="#000" textLength="45.18" lengthAdjust="spacingAndGlyphs" stroke="#000" stroke-width="0.17">Combo vs sotorasib</text>
<line x1="561.80" y1="241.80" x2="564.60" y2="241.80" stroke="#222" stroke-width="0.55"/>
<text x="561.40" y="256.62" font-size="4.7" font-weight="bold" text-anchor="end" fill="#000" textLength="44.12" lengthAdjust="spacingAndGlyphs" stroke="#000" stroke-width="0.17">Anlotinib vs control</text>
<line x1="561.80" y1="254.70" x2="564.60" y2="254.70" stroke="#222" stroke-width="0.55"/>
<text x="561.40" y="269.52" font-size="4.7" font-weight="bold" text-anchor="end" fill="#000" textLength="45.44" lengthAdjust="spacingAndGlyphs" stroke="#000" stroke-width="0.17">Sotorasib vs control</text>
<line x1="561.80" y1="267.60" x2="564.60" y2="267.60" stroke="#222" stroke-width="0.55"/>
<rect x="578.25" y="224.40" width="20.35" height="8.40" fill="#6cc6d2"/>
<rect x="575.09" y="237.30" width="23.51" height="8.40" fill="#e64b35"/>
<rect x="598.60" y="250.20" width="16.67" height="8.40" fill="#6cc6d2"/>
<rect x="598.60" y="263.10" width="21.80" height="8.40" fill="#e64b35"/>
<text x="602.00" y="216.77" font-size="4.57" font-weight="bold" fill="#000" textLength="28.8" lengthAdjust="spacingAndGlyphs">Not enriched</text>
<line x1="564.60" y1="207.30" x2="564.60" y2="276.10" stroke="#222" stroke-width="0.8"/>
<line x1="564.60" y1="276.10" x2="633.30" y2="276.10" stroke="#222" stroke-width="0.8"/>
<line x1="598.60" y1="207.30" x2="598.60" y2="276.10" stroke="#8a8a8a" stroke-width="0.8"/>
<line x1="564.40" y1="276.10" x2="564.40" y2="278.00" stroke="#222" stroke-width="0.55"/>
<text x="564.40" y="283.58" font-size="4.0" font-weight="bold" text-anchor="middle" fill="#000">-2</text>
<line x1="581.50" y1="276.10" x2="581.50" y2="278.00" stroke="#222" stroke-width="0.55"/>
<text x="581.50" y="283.58" font-size="4.0" font-weight="bold" text-anchor="middle" fill="#000">-1</text>
<line x1="598.60" y1="276.10" x2="598.60" y2="278.00" stroke="#222" stroke-width="0.55"/>
<text x="598.60" y="283.58" font-size="4.0" font-weight="bold" text-anchor="middle" fill="#000">0</text>
<line x1="615.70" y1="276.10" x2="615.70" y2="278.00" stroke="#222" stroke-width="0.55"/>
<text x="615.70" y="283.58" font-size="4.0" font-weight="bold" text-anchor="middle" fill="#000">1</text>
<line x1="632.80" y1="276.10" x2="632.80" y2="278.00" stroke="#222" stroke-width="0.55"/>
<text x="632.80" y="283.58" font-size="4.0" font-weight="bold" text-anchor="middle" fill="#000">2</text>
<text x="598.60" y="291.58" font-size="4.6" font-weight="bold" text-anchor="middle" fill="#000">NES</text>
<text x="663.50" y="214.45" font-size="4.5" fill="#000" textLength="9.0" lengthAdjust="spacingAndGlyphs" stroke="#000" stroke-width="0.15">FDR</text>
<rect x="663.50" y="218.40" width="7.30" height="7.00" fill="#e64b35"/>
<rect x="663.50" y="226.10" width="7.30" height="7.10" fill="#6cc6d2"/>
<text x="673.20" y="223.15" font-size="4.5" fill="#000" textLength="11.1" lengthAdjust="spacingAndGlyphs" stroke="#000" stroke-width="0.15">&lt;0.25</text>
<text x="673.20" y="231.15" font-size="4.5" fill="#000" textLength="11.1" lengthAdjust="spacingAndGlyphs" stroke="#000" stroke-width="0.15">&gt;0.25</text>
</svg>
</body></html>
